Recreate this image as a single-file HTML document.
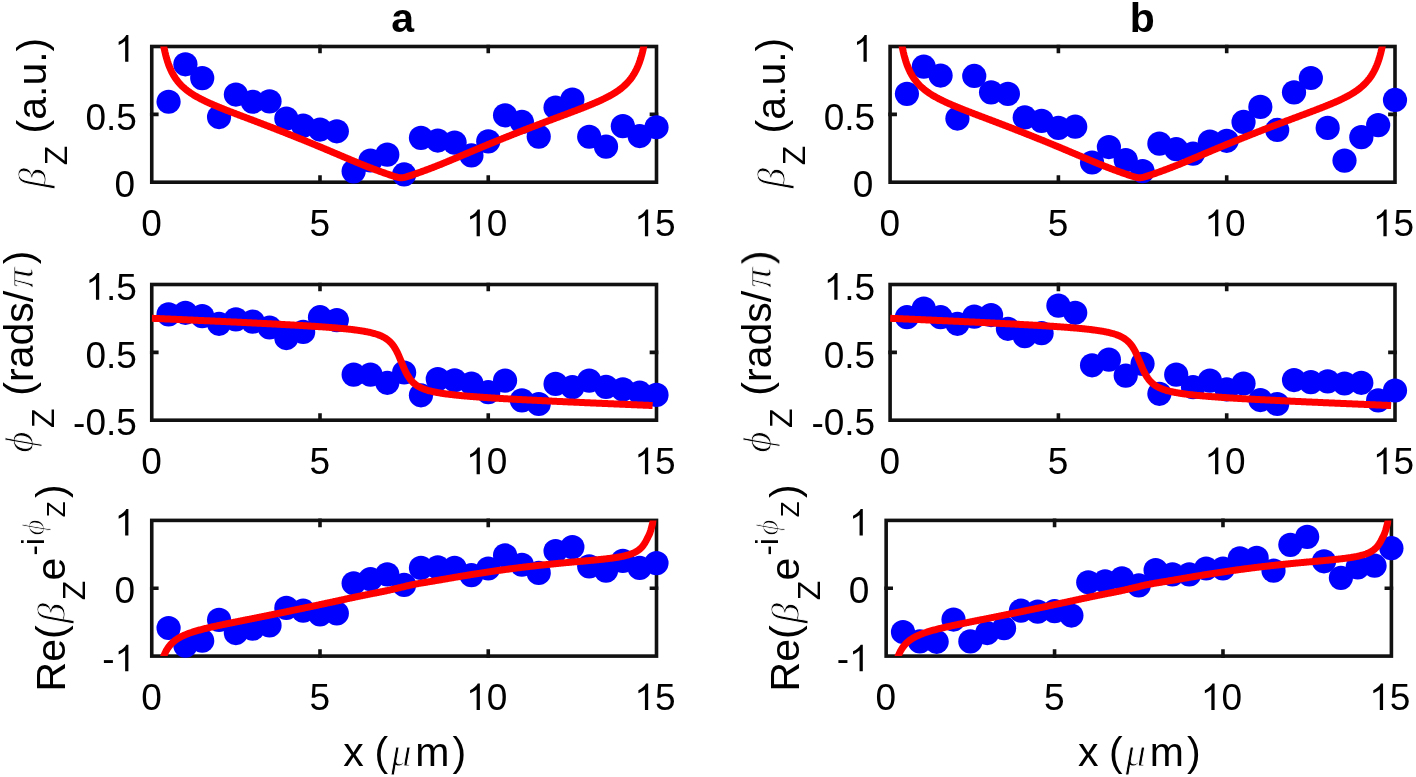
<!DOCTYPE html>
<html><head><meta charset="utf-8"><style>
html,body{margin:0;padding:0;background:#fff;overflow:hidden;width:1416px;height:777px;}
svg{display:block;}
.tx{filter:grayscale(1);}
text{fill:#000;}
.s{font-family:"Liberation Sans",sans-serif;}
.sb{font-family:"Liberation Sans",sans-serif;font-weight:bold;}
.gi{font-family:"Liberation Serif",serif;font-style:italic;stroke:#fff;stroke-width:0.9px;}
</style></head><body>
<svg width="1416" height="777" viewBox="0 0 1416 777">
<rect width="1416" height="777" fill="#fff"/>
<clipPath id="ca0"><rect x="151.75" y="46.50" width="504.75" height="135.70"/></clipPath>
<rect x="151.75" y="46.50" width="504.75" height="135.70" fill="none" stroke="#111111" stroke-width="3.6" stroke-linecap="square"/>
<path d="M320.00 182.20V177.15M320.00 46.50V51.55M488.25 182.20V177.15M488.25 46.50V51.55M151.75 114.35H156.80M656.50 114.35H651.45" stroke="#111111" stroke-width="3.6" stroke-linecap="square" fill="none"/>
<g fill="#0000ff">
<circle cx="168.57" cy="101.73" r="12.1"/>
<circle cx="185.40" cy="64.28" r="12.1"/>
<circle cx="202.22" cy="78.12" r="12.1"/>
<circle cx="219.05" cy="117.06" r="12.1"/>
<circle cx="235.88" cy="94.54" r="12.1"/>
<circle cx="252.70" cy="101.73" r="12.1"/>
<circle cx="269.52" cy="101.32" r="12.1"/>
<circle cx="286.35" cy="118.56" r="12.1"/>
<circle cx="303.18" cy="125.61" r="12.1"/>
<circle cx="320.00" cy="129.55" r="12.1"/>
<circle cx="336.82" cy="131.31" r="12.1"/>
<circle cx="353.65" cy="171.34" r="12.1"/>
<circle cx="370.48" cy="160.49" r="12.1"/>
<circle cx="387.30" cy="154.65" r="12.1"/>
<circle cx="404.12" cy="174.47" r="12.1"/>
<circle cx="420.95" cy="137.83" r="12.1"/>
<circle cx="437.77" cy="140.54" r="12.1"/>
<circle cx="454.60" cy="142.58" r="12.1"/>
<circle cx="471.43" cy="155.47" r="12.1"/>
<circle cx="488.25" cy="141.35" r="12.1"/>
<circle cx="505.07" cy="115.30" r="12.1"/>
<circle cx="521.90" cy="121.95" r="12.1"/>
<circle cx="538.73" cy="136.60" r="12.1"/>
<circle cx="555.55" cy="107.56" r="12.1"/>
<circle cx="572.38" cy="99.56" r="12.1"/>
<circle cx="589.20" cy="136.74" r="12.1"/>
<circle cx="606.02" cy="146.65" r="12.1"/>
<circle cx="622.85" cy="126.16" r="12.1"/>
<circle cx="639.67" cy="136.06" r="12.1"/>
<circle cx="656.50" cy="127.24" r="12.1"/>
</g>
<polyline clip-path="url(#ca0)" points="158.48,-2.58 159.30,9.39 160.11,19.05 160.93,27.00 161.75,33.67 162.57,39.35 163.38,44.25 164.20,48.51 165.02,52.27 165.84,55.61 166.65,58.59 167.47,61.27 168.29,63.70 169.11,65.92 169.92,67.94 170.74,69.81 171.56,71.53 172.38,73.12 173.19,74.61 174.01,75.99 174.83,77.29 175.64,78.51 176.46,79.66 177.28,80.74 178.10,81.77 178.91,82.74 179.73,83.67 180.55,84.55 181.37,85.40 182.18,86.20 183.00,86.97 183.82,87.72 184.64,88.43 185.45,89.12 186.27,89.78 187.09,90.42 187.91,91.04 188.72,91.65 189.54,92.23 190.36,92.79 191.17,93.34 191.99,93.88 192.81,94.40 193.63,94.91 194.44,95.41 195.26,95.90 196.08,96.37 196.90,96.84 197.71,97.29 198.53,97.74 199.35,98.18 200.17,98.61 200.98,99.04 201.80,99.46 202.62,99.87 203.44,100.27 204.25,100.67 205.07,101.07 205.89,101.45 206.71,101.84 207.52,102.22 208.34,102.59 209.16,102.96 209.97,103.33 210.79,103.70 211.61,104.06 212.43,104.41 213.24,104.77 214.06,105.12 214.88,105.47 215.70,105.81 216.51,106.16 217.33,106.50 218.15,106.84 218.97,107.17 219.78,107.51 220.60,107.84 221.42,108.17 222.24,108.50 223.05,108.83 223.87,109.16 224.69,109.48 225.50,109.80 226.32,110.13 227.14,110.45 227.96,110.77 228.77,111.09 229.59,111.41 230.41,111.73 231.23,112.04 232.04,112.36 232.86,112.67 233.68,112.99 234.50,113.30 235.31,113.62 236.13,113.93 236.95,114.24 237.77,114.55 238.58,114.87 239.40,115.18 240.22,115.49 241.03,115.80 241.85,116.11 242.67,116.42 243.49,116.73 244.30,117.04 245.12,117.35 245.94,117.66 246.76,117.97 247.57,118.28 248.39,118.59 249.21,118.90 250.03,119.21 250.84,119.52 251.66,119.83 252.48,120.14 253.30,120.45 254.11,120.76 254.93,121.07 255.75,121.38 256.56,121.69 257.38,122.00 258.20,122.32 259.02,122.63 259.83,122.94 260.65,123.25 261.47,123.56 262.29,123.87 263.10,124.19 263.92,124.50 264.74,124.81 265.56,125.13 266.37,125.44 267.19,125.75 268.01,126.07 268.83,126.38 269.64,126.70 270.46,127.01 271.28,127.33 272.10,127.64 272.91,127.96 273.73,128.28 274.55,128.59 275.36,128.91 276.18,129.23 277.00,129.55 277.82,129.87 278.63,130.19 279.45,130.50 280.27,130.82 281.09,131.14 281.90,131.47 282.72,131.79 283.54,132.11 284.36,132.43 285.17,132.75 285.99,133.07 286.81,133.40 287.63,133.72 288.44,134.05 289.26,134.37 290.08,134.69 290.89,135.02 291.71,135.35 292.53,135.67 293.35,136.00 294.16,136.33 294.98,136.65 295.80,136.98 296.62,137.31 297.43,137.64 298.25,137.97 299.07,138.30 299.89,138.63 300.70,138.96 301.52,139.29 302.34,139.62 303.16,139.95 303.97,140.28 304.79,140.61 305.61,140.95 306.42,141.28 307.24,141.62 308.06,141.95 308.88,142.28 309.69,142.62 310.51,142.95 311.33,143.29 312.15,143.63 312.96,143.96 313.78,144.30 314.60,144.64 315.42,144.98 316.23,145.31 317.05,145.65 317.87,145.99 318.69,146.33 319.50,146.67 320.32,147.01 321.14,147.35 321.95,147.69 322.77,148.03 323.59,148.38 324.41,148.72 325.22,149.06 326.04,149.40 326.86,149.75 327.68,150.09 328.49,150.43 329.31,150.78 330.13,151.12 330.95,151.46 331.76,151.81 332.58,152.15 333.40,152.50 334.22,152.85 335.03,153.19 335.85,153.54 336.67,153.88 337.49,154.23 338.30,154.58 339.12,154.92 339.94,155.27 340.75,155.62 341.57,155.96 342.39,156.31 343.21,156.66 344.02,157.00 344.84,157.35 345.66,157.70 346.48,158.04 347.29,158.39 348.11,158.74 348.93,159.08 349.75,159.43 350.56,159.77 351.38,160.12 352.20,160.46 353.02,160.80 353.83,161.15 354.65,161.49 355.47,161.83 356.28,162.17 357.10,162.51 357.92,162.85 358.74,163.18 359.55,163.52 360.37,163.86 361.19,164.19 362.01,164.52 362.82,164.85 363.64,165.18 364.46,165.51 365.28,165.83 366.09,166.16 366.91,166.48 367.73,166.80 368.55,167.12 369.36,167.44 370.18,167.75 371.00,168.07 371.81,168.38 372.63,168.69 373.45,169.00 374.27,169.30 375.08,169.61 375.90,169.91 376.72,170.21 377.54,170.51 378.35,170.81 379.17,171.11 379.99,171.41 380.81,171.70 381.62,171.99 382.44,172.29 383.26,172.58 384.08,172.87 384.89,173.16 385.71,173.45 386.53,173.73 387.34,174.02 388.16,174.31 388.98,174.59 389.80,174.88 390.61,175.16 391.43,175.43 392.25,175.71 393.07,175.98 393.88,176.24 394.70,176.50 395.52,176.75 396.34,176.98 397.15,177.19 397.97,177.37 398.79,177.53 399.61,177.65 400.42,177.72 401.24,177.74 402.06,177.71 402.88,177.63 403.69,177.51 404.51,177.34 405.33,177.15 406.14,176.93 406.96,176.70 407.78,176.45 408.60,176.19 409.41,175.93 410.23,175.65 411.05,175.38 411.87,175.10 412.68,174.82 413.50,174.53 414.32,174.25 415.14,173.96 415.95,173.67 416.77,173.38 417.59,173.09 418.41,172.80 419.22,172.51 420.04,172.22 420.86,171.93 421.67,171.63 422.49,171.34 423.31,171.04 424.13,170.75 424.94,170.45 425.76,170.15 426.58,169.85 427.40,169.55 428.21,169.24 429.03,168.93 429.85,168.63 430.67,168.32 431.48,168.01 432.30,167.69 433.12,167.38 433.94,167.06 434.75,166.74 435.57,166.42 436.39,166.10 437.20,165.78 438.02,165.45 438.84,165.12 439.66,164.80 440.47,164.46 441.29,164.13 442.11,163.80 442.93,163.47 443.74,163.13 444.56,162.79 445.38,162.46 446.20,162.12 447.01,161.78 447.83,161.44 448.65,161.09 449.47,160.75 450.28,160.41 451.10,160.07 451.92,159.72 452.73,159.38 453.55,159.03 454.37,158.69 455.19,158.34 456.00,157.99 456.82,157.65 457.64,157.30 458.46,156.96 459.27,156.61 460.09,156.26 460.91,155.92 461.73,155.57 462.54,155.22 463.36,154.88 464.18,154.53 465.00,154.18 465.81,153.84 466.63,153.49 467.45,153.15 468.27,152.80 469.08,152.45 469.90,152.11 470.72,151.76 471.53,151.42 472.35,151.08 473.17,150.73 473.99,150.39 474.80,150.04 475.62,149.70 476.44,149.36 477.26,149.02 478.07,148.67 478.89,148.33 479.71,147.99 480.53,147.65 481.34,147.31 482.16,146.97 482.98,146.63 483.80,146.29 484.61,145.95 485.43,145.61 486.25,145.27 487.06,144.94 487.88,144.60 488.70,144.26 489.52,143.93 490.33,143.59 491.15,143.25 491.97,142.92 492.79,142.58 493.60,142.25 494.42,141.91 495.24,141.58 496.06,141.25 496.87,140.91 497.69,140.58 498.51,140.25 499.33,139.92 500.14,139.59 500.96,139.26 501.78,138.93 502.59,138.60 503.41,138.27 504.23,137.94 505.05,137.61 505.86,137.28 506.68,136.95 507.50,136.63 508.32,136.30 509.13,135.98 509.95,135.65 510.77,135.32 511.59,135.00 512.40,134.68 513.22,134.35 514.04,134.03 514.86,133.70 515.67,133.38 516.49,133.06 517.31,132.74 518.12,132.42 518.94,132.10 519.76,131.78 520.58,131.46 521.39,131.14 522.21,130.82 523.03,130.50 523.85,130.18 524.66,129.86 525.48,129.55 526.30,129.23 527.12,128.91 527.93,128.60 528.75,128.28 529.57,127.97 530.39,127.65 531.20,127.34 532.02,127.02 532.84,126.71 533.66,126.40 534.47,126.09 535.29,125.77 536.11,125.46 536.92,125.15 537.74,124.84 538.56,124.53 539.38,124.22 540.19,123.91 541.01,123.60 541.83,123.29 542.65,122.98 543.46,122.67 544.28,122.36 545.10,122.05 545.92,121.75 546.73,121.44 547.55,121.13 548.37,120.82 549.19,120.52 550.00,120.21 550.82,119.90 551.64,119.60 552.45,119.29 553.27,118.99 554.09,118.68 554.91,118.37 555.72,118.07 556.54,117.76 557.36,117.46 558.18,117.15 558.99,116.85 559.81,116.54 560.63,116.24 561.45,115.93 562.26,115.63 563.08,115.32 563.90,115.01 564.72,114.71 565.53,114.40 566.35,114.10 567.17,113.79 567.98,113.48 568.80,113.18 569.62,112.87 570.44,112.56 571.25,112.25 572.07,111.94 572.89,111.64 573.71,111.33 574.52,111.02 575.34,110.71 576.16,110.39 576.98,110.08 577.79,109.77 578.61,109.45 579.43,109.14 580.25,108.82 581.06,108.51 581.88,108.19 582.70,107.87 583.51,107.55 584.33,107.23 585.15,106.90 585.97,106.58 586.78,106.25 587.60,105.92 588.42,105.59 589.24,105.26 590.05,104.93 590.87,104.59 591.69,104.25 592.51,103.91 593.32,103.57 594.14,103.22 594.96,102.87 595.78,102.52 596.59,102.17 597.41,101.81 598.23,101.44 599.05,101.08 599.86,100.71 600.68,100.33 601.50,99.95 602.31,99.57 603.13,99.18 603.95,98.79 604.77,98.39 605.58,97.98 606.40,97.57 607.22,97.15 608.04,96.72 608.85,96.29 609.67,95.84 610.49,95.39 611.31,94.93 612.12,94.46 612.94,93.98 613.76,93.49 614.58,92.99 615.39,92.48 616.21,91.95 617.03,91.40 617.84,90.85 618.66,90.27 619.48,89.68 620.30,89.07 621.11,88.44 621.93,87.78 622.75,87.11 623.57,86.41 624.38,85.68 625.20,84.92 626.02,84.13 626.84,83.30 627.65,82.44 628.47,81.53 629.29,80.58 630.11,79.58 630.92,78.52 631.74,77.41 632.56,76.23 633.37,74.97 634.19,73.63 635.01,72.20 635.83,70.67 636.64,69.02 637.46,67.24 638.28,65.32 639.10,63.22 639.91,60.93 640.73,58.41 641.55,55.63 642.37,52.54 643.18,49.09 644.00,45.20 644.82,40.77 645.64,35.70 646.45,29.82 647.27,22.91 648.09,14.68" fill="none" stroke="#ff0000" stroke-width="7" stroke-linejoin="round"/>
<clipPath id="cb0"><rect x="890.10" y="46.50" width="504.90" height="135.70"/></clipPath>
<rect x="890.10" y="46.50" width="504.90" height="135.70" fill="none" stroke="#111111" stroke-width="3.6" stroke-linecap="square"/>
<path d="M1058.40 182.20V177.15M1058.40 46.50V51.55M1226.70 182.20V177.15M1226.70 46.50V51.55M890.10 114.35H895.15M1395.00 114.35H1389.95" stroke="#111111" stroke-width="3.6" stroke-linecap="square" fill="none"/>
<g fill="#0000ff">
<circle cx="906.93" cy="93.86" r="12.1"/>
<circle cx="923.76" cy="66.72" r="12.1"/>
<circle cx="940.59" cy="75.54" r="12.1"/>
<circle cx="957.42" cy="118.56" r="12.1"/>
<circle cx="974.25" cy="75.95" r="12.1"/>
<circle cx="991.08" cy="92.37" r="12.1"/>
<circle cx="1007.91" cy="93.86" r="12.1"/>
<circle cx="1024.74" cy="117.47" r="12.1"/>
<circle cx="1041.57" cy="120.86" r="12.1"/>
<circle cx="1058.40" cy="127.92" r="12.1"/>
<circle cx="1075.23" cy="126.70" r="12.1"/>
<circle cx="1092.06" cy="162.52" r="12.1"/>
<circle cx="1108.89" cy="147.05" r="12.1"/>
<circle cx="1125.72" cy="160.08" r="12.1"/>
<circle cx="1142.55" cy="171.07" r="12.1"/>
<circle cx="1159.38" cy="143.66" r="12.1"/>
<circle cx="1176.21" cy="149.22" r="12.1"/>
<circle cx="1193.04" cy="153.57" r="12.1"/>
<circle cx="1209.87" cy="141.49" r="12.1"/>
<circle cx="1226.70" cy="140.81" r="12.1"/>
<circle cx="1243.53" cy="121.95" r="12.1"/>
<circle cx="1260.36" cy="106.89" r="12.1"/>
<circle cx="1277.19" cy="129.96" r="12.1"/>
<circle cx="1294.02" cy="92.37" r="12.1"/>
<circle cx="1310.85" cy="77.98" r="12.1"/>
<circle cx="1327.68" cy="127.92" r="12.1"/>
<circle cx="1344.51" cy="160.62" r="12.1"/>
<circle cx="1361.34" cy="137.15" r="12.1"/>
<circle cx="1378.17" cy="125.07" r="12.1"/>
<circle cx="1395.00" cy="99.97" r="12.1"/>
</g>
<polyline clip-path="url(#cb0)" points="896.83,-2.58 897.65,9.39 898.47,19.05 899.28,27.00 900.10,33.67 900.92,39.35 901.74,44.25 902.56,48.51 903.37,52.27 904.19,55.61 905.01,58.59 905.83,61.27 906.64,63.70 907.46,65.92 908.28,67.94 909.10,69.81 909.91,71.53 910.73,73.12 911.55,74.61 912.37,75.99 913.18,77.29 914.00,78.51 914.82,79.66 915.64,80.74 916.45,81.77 917.27,82.74 918.09,83.67 918.91,84.55 919.73,85.40 920.54,86.20 921.36,86.97 922.18,87.72 923.00,88.43 923.81,89.12 924.63,89.78 925.45,90.42 926.27,91.04 927.08,91.65 927.90,92.23 928.72,92.79 929.54,93.34 930.35,93.88 931.17,94.40 931.99,94.91 932.81,95.41 933.62,95.90 934.44,96.37 935.26,96.84 936.08,97.29 936.90,97.74 937.71,98.18 938.53,98.61 939.35,99.04 940.17,99.46 940.98,99.87 941.80,100.27 942.62,100.67 943.44,101.07 944.25,101.45 945.07,101.84 945.89,102.22 946.71,102.59 947.52,102.96 948.34,103.33 949.16,103.70 949.98,104.06 950.79,104.41 951.61,104.77 952.43,105.12 953.25,105.47 954.07,105.81 954.88,106.16 955.70,106.50 956.52,106.84 957.34,107.17 958.15,107.51 958.97,107.84 959.79,108.17 960.61,108.50 961.42,108.83 962.24,109.16 963.06,109.48 963.88,109.80 964.69,110.13 965.51,110.45 966.33,110.77 967.15,111.09 967.96,111.41 968.78,111.73 969.60,112.04 970.42,112.36 971.24,112.67 972.05,112.99 972.87,113.30 973.69,113.62 974.51,113.93 975.32,114.24 976.14,114.55 976.96,114.87 977.78,115.18 978.59,115.49 979.41,115.80 980.23,116.11 981.05,116.42 981.86,116.73 982.68,117.04 983.50,117.35 984.32,117.66 985.13,117.97 985.95,118.28 986.77,118.59 987.59,118.90 988.41,119.21 989.22,119.52 990.04,119.83 990.86,120.14 991.68,120.45 992.49,120.76 993.31,121.07 994.13,121.38 994.95,121.69 995.76,122.00 996.58,122.32 997.40,122.63 998.22,122.94 999.03,123.25 999.85,123.56 1000.67,123.87 1001.49,124.19 1002.30,124.50 1003.12,124.81 1003.94,125.13 1004.76,125.44 1005.58,125.75 1006.39,126.07 1007.21,126.38 1008.03,126.70 1008.85,127.01 1009.66,127.33 1010.48,127.64 1011.30,127.96 1012.12,128.28 1012.93,128.59 1013.75,128.91 1014.57,129.23 1015.39,129.55 1016.20,129.87 1017.02,130.19 1017.84,130.50 1018.66,130.82 1019.47,131.14 1020.29,131.47 1021.11,131.79 1021.93,132.11 1022.75,132.43 1023.56,132.75 1024.38,133.07 1025.20,133.40 1026.02,133.72 1026.83,134.05 1027.65,134.37 1028.47,134.69 1029.29,135.02 1030.10,135.35 1030.92,135.67 1031.74,136.00 1032.56,136.33 1033.37,136.65 1034.19,136.98 1035.01,137.31 1035.83,137.64 1036.64,137.97 1037.46,138.30 1038.28,138.63 1039.10,138.96 1039.92,139.29 1040.73,139.62 1041.55,139.95 1042.37,140.28 1043.19,140.61 1044.00,140.95 1044.82,141.28 1045.64,141.62 1046.46,141.95 1047.27,142.28 1048.09,142.62 1048.91,142.95 1049.73,143.29 1050.54,143.63 1051.36,143.96 1052.18,144.30 1053.00,144.64 1053.81,144.98 1054.63,145.31 1055.45,145.65 1056.27,145.99 1057.09,146.33 1057.90,146.67 1058.72,147.01 1059.54,147.35 1060.36,147.69 1061.17,148.03 1061.99,148.38 1062.81,148.72 1063.63,149.06 1064.44,149.40 1065.26,149.75 1066.08,150.09 1066.90,150.43 1067.71,150.78 1068.53,151.12 1069.35,151.46 1070.17,151.81 1070.98,152.15 1071.80,152.50 1072.62,152.85 1073.44,153.19 1074.26,153.54 1075.07,153.88 1075.89,154.23 1076.71,154.58 1077.53,154.92 1078.34,155.27 1079.16,155.62 1079.98,155.96 1080.80,156.31 1081.61,156.66 1082.43,157.00 1083.25,157.35 1084.07,157.70 1084.88,158.04 1085.70,158.39 1086.52,158.74 1087.34,159.08 1088.15,159.43 1088.97,159.77 1089.79,160.12 1090.61,160.46 1091.43,160.80 1092.24,161.15 1093.06,161.49 1093.88,161.83 1094.70,162.17 1095.51,162.51 1096.33,162.85 1097.15,163.18 1097.97,163.52 1098.78,163.86 1099.60,164.19 1100.42,164.52 1101.24,164.85 1102.05,165.18 1102.87,165.51 1103.69,165.83 1104.51,166.16 1105.32,166.48 1106.14,166.80 1106.96,167.12 1107.78,167.44 1108.59,167.75 1109.41,168.07 1110.23,168.38 1111.05,168.69 1111.87,169.00 1112.68,169.30 1113.50,169.61 1114.32,169.91 1115.14,170.21 1115.95,170.51 1116.77,170.81 1117.59,171.11 1118.41,171.41 1119.22,171.70 1120.04,171.99 1120.86,172.29 1121.68,172.58 1122.49,172.87 1123.31,173.16 1124.13,173.45 1124.95,173.73 1125.76,174.02 1126.58,174.31 1127.40,174.59 1128.22,174.88 1129.04,175.16 1129.85,175.43 1130.67,175.71 1131.49,175.98 1132.31,176.24 1133.12,176.50 1133.94,176.75 1134.76,176.98 1135.58,177.19 1136.39,177.37 1137.21,177.53 1138.03,177.65 1138.85,177.72 1139.66,177.74 1140.48,177.71 1141.30,177.63 1142.12,177.51 1142.93,177.34 1143.75,177.15 1144.57,176.93 1145.39,176.70 1146.21,176.45 1147.02,176.19 1147.84,175.93 1148.66,175.65 1149.48,175.38 1150.29,175.10 1151.11,174.82 1151.93,174.53 1152.75,174.25 1153.56,173.96 1154.38,173.67 1155.20,173.38 1156.02,173.09 1156.83,172.80 1157.65,172.51 1158.47,172.22 1159.29,171.93 1160.10,171.63 1160.92,171.34 1161.74,171.04 1162.56,170.75 1163.38,170.45 1164.19,170.15 1165.01,169.85 1165.83,169.55 1166.65,169.24 1167.46,168.93 1168.28,168.63 1169.10,168.32 1169.92,168.01 1170.73,167.69 1171.55,167.38 1172.37,167.06 1173.19,166.74 1174.00,166.42 1174.82,166.10 1175.64,165.78 1176.46,165.45 1177.27,165.12 1178.09,164.80 1178.91,164.46 1179.73,164.13 1180.55,163.80 1181.36,163.47 1182.18,163.13 1183.00,162.79 1183.82,162.46 1184.63,162.12 1185.45,161.78 1186.27,161.44 1187.09,161.09 1187.90,160.75 1188.72,160.41 1189.54,160.07 1190.36,159.72 1191.17,159.38 1191.99,159.03 1192.81,158.69 1193.63,158.34 1194.44,157.99 1195.26,157.65 1196.08,157.30 1196.90,156.96 1197.72,156.61 1198.53,156.26 1199.35,155.92 1200.17,155.57 1200.99,155.22 1201.80,154.88 1202.62,154.53 1203.44,154.18 1204.26,153.84 1205.07,153.49 1205.89,153.15 1206.71,152.80 1207.53,152.45 1208.34,152.11 1209.16,151.76 1209.98,151.42 1210.80,151.08 1211.61,150.73 1212.43,150.39 1213.25,150.04 1214.07,149.70 1214.89,149.36 1215.70,149.02 1216.52,148.67 1217.34,148.33 1218.16,147.99 1218.97,147.65 1219.79,147.31 1220.61,146.97 1221.43,146.63 1222.24,146.29 1223.06,145.95 1223.88,145.61 1224.70,145.27 1225.51,144.94 1226.33,144.60 1227.15,144.26 1227.97,143.93 1228.78,143.59 1229.60,143.25 1230.42,142.92 1231.24,142.58 1232.06,142.25 1232.87,141.91 1233.69,141.58 1234.51,141.25 1235.33,140.91 1236.14,140.58 1236.96,140.25 1237.78,139.92 1238.60,139.59 1239.41,139.26 1240.23,138.93 1241.05,138.60 1241.87,138.27 1242.68,137.94 1243.50,137.61 1244.32,137.28 1245.14,136.95 1245.95,136.63 1246.77,136.30 1247.59,135.98 1248.41,135.65 1249.23,135.32 1250.04,135.00 1250.86,134.68 1251.68,134.35 1252.50,134.03 1253.31,133.70 1254.13,133.38 1254.95,133.06 1255.77,132.74 1256.58,132.42 1257.40,132.10 1258.22,131.78 1259.04,131.46 1259.85,131.14 1260.67,130.82 1261.49,130.50 1262.31,130.18 1263.12,129.86 1263.94,129.55 1264.76,129.23 1265.58,128.91 1266.40,128.60 1267.21,128.28 1268.03,127.97 1268.85,127.65 1269.67,127.34 1270.48,127.02 1271.30,126.71 1272.12,126.40 1272.94,126.09 1273.75,125.77 1274.57,125.46 1275.39,125.15 1276.21,124.84 1277.02,124.53 1277.84,124.22 1278.66,123.91 1279.48,123.60 1280.29,123.29 1281.11,122.98 1281.93,122.67 1282.75,122.36 1283.57,122.05 1284.38,121.75 1285.20,121.44 1286.02,121.13 1286.84,120.82 1287.65,120.52 1288.47,120.21 1289.29,119.90 1290.11,119.60 1290.92,119.29 1291.74,118.99 1292.56,118.68 1293.38,118.37 1294.19,118.07 1295.01,117.76 1295.83,117.46 1296.65,117.15 1297.46,116.85 1298.28,116.54 1299.10,116.24 1299.92,115.93 1300.74,115.63 1301.55,115.32 1302.37,115.01 1303.19,114.71 1304.01,114.40 1304.82,114.10 1305.64,113.79 1306.46,113.48 1307.28,113.18 1308.09,112.87 1308.91,112.56 1309.73,112.25 1310.55,111.94 1311.36,111.64 1312.18,111.33 1313.00,111.02 1313.82,110.71 1314.63,110.39 1315.45,110.08 1316.27,109.77 1317.09,109.45 1317.91,109.14 1318.72,108.82 1319.54,108.51 1320.36,108.19 1321.18,107.87 1321.99,107.55 1322.81,107.23 1323.63,106.90 1324.45,106.58 1325.26,106.25 1326.08,105.92 1326.90,105.59 1327.72,105.26 1328.53,104.93 1329.35,104.59 1330.17,104.25 1330.99,103.91 1331.80,103.57 1332.62,103.22 1333.44,102.87 1334.26,102.52 1335.08,102.17 1335.89,101.81 1336.71,101.44 1337.53,101.08 1338.35,100.71 1339.16,100.33 1339.98,99.95 1340.80,99.57 1341.62,99.18 1342.43,98.79 1343.25,98.39 1344.07,97.98 1344.89,97.57 1345.70,97.15 1346.52,96.72 1347.34,96.29 1348.16,95.84 1348.97,95.39 1349.79,94.93 1350.61,94.46 1351.43,93.98 1352.25,93.49 1353.06,92.99 1353.88,92.48 1354.70,91.95 1355.52,91.40 1356.33,90.85 1357.15,90.27 1357.97,89.68 1358.79,89.07 1359.60,88.44 1360.42,87.78 1361.24,87.11 1362.06,86.41 1362.87,85.68 1363.69,84.92 1364.51,84.13 1365.33,83.30 1366.14,82.44 1366.96,81.53 1367.78,80.58 1368.60,79.58 1369.42,78.52 1370.23,77.41 1371.05,76.23 1371.87,74.97 1372.69,73.63 1373.50,72.20 1374.32,70.67 1375.14,69.02 1375.96,67.24 1376.77,65.32 1377.59,63.22 1378.41,60.93 1379.23,58.41 1380.04,55.63 1380.86,52.54 1381.68,49.09 1382.50,45.20 1383.31,40.77 1384.13,35.70 1384.95,29.82 1385.77,22.91 1386.59,14.68" fill="none" stroke="#ff0000" stroke-width="7" stroke-linejoin="round"/>
<clipPath id="ca1"><rect x="151.75" y="284.50" width="504.75" height="135.70"/></clipPath>
<rect x="151.75" y="284.50" width="504.75" height="135.70" fill="none" stroke="#111111" stroke-width="3.6" stroke-linecap="square"/>
<path d="M320.00 420.20V415.15M320.00 284.50V289.55M488.25 420.20V415.15M488.25 284.50V289.55M151.75 352.35H156.80M656.50 352.35H651.45" stroke="#111111" stroke-width="3.6" stroke-linecap="square" fill="none"/>
<g fill="#0000ff">
<circle cx="168.57" cy="314.35" r="12.1"/>
<circle cx="185.40" cy="312.79" r="12.1"/>
<circle cx="202.22" cy="316.12" r="12.1"/>
<circle cx="219.05" cy="323.79" r="12.1"/>
<circle cx="235.88" cy="319.37" r="12.1"/>
<circle cx="252.70" cy="321.61" r="12.1"/>
<circle cx="269.52" cy="327.52" r="12.1"/>
<circle cx="286.35" cy="338.03" r="12.1"/>
<circle cx="303.18" cy="331.93" r="12.1"/>
<circle cx="320.00" cy="317.20" r="12.1"/>
<circle cx="336.82" cy="320.12" r="12.1"/>
<circle cx="353.65" cy="374.67" r="12.1"/>
<circle cx="370.48" cy="374.67" r="12.1"/>
<circle cx="387.30" cy="382.81" r="12.1"/>
<circle cx="404.12" cy="372.50" r="12.1"/>
<circle cx="420.95" cy="395.30" r="12.1"/>
<circle cx="437.77" cy="379.08" r="12.1"/>
<circle cx="454.60" cy="380.30" r="12.1"/>
<circle cx="471.43" cy="383.49" r="12.1"/>
<circle cx="488.25" cy="392.18" r="12.1"/>
<circle cx="505.07" cy="380.58" r="12.1"/>
<circle cx="521.90" cy="400.32" r="12.1"/>
<circle cx="538.73" cy="403.98" r="12.1"/>
<circle cx="555.55" cy="383.90" r="12.1"/>
<circle cx="572.38" cy="387.22" r="12.1"/>
<circle cx="589.20" cy="380.58" r="12.1"/>
<circle cx="606.02" cy="386.82" r="12.1"/>
<circle cx="622.85" cy="389.40" r="12.1"/>
<circle cx="639.67" cy="392.72" r="12.1"/>
<circle cx="656.50" cy="394.89" r="12.1"/>
</g>
<polyline clip-path="url(#ca1)" points="151.75,318.29 152.59,318.33 153.42,318.36 154.26,318.40 155.09,318.44 155.93,318.47 156.77,318.51 157.60,318.55 158.44,318.58 159.28,318.62 160.11,318.66 160.95,318.69 161.78,318.73 162.62,318.77 163.46,318.81 164.29,318.84 165.13,318.88 165.97,318.92 166.80,318.95 167.64,318.99 168.47,319.03 169.31,319.06 170.15,319.10 170.98,319.14 171.82,319.18 172.65,319.21 173.49,319.25 174.33,319.29 175.16,319.33 176.00,319.36 176.84,319.40 177.67,319.44 178.51,319.47 179.34,319.51 180.18,319.55 181.02,319.59 181.85,319.62 182.69,319.66 183.53,319.70 184.36,319.74 185.20,319.77 186.03,319.81 186.87,319.85 187.71,319.89 188.54,319.92 189.38,319.96 190.21,320.00 191.05,320.04 191.89,320.07 192.72,320.11 193.56,320.15 194.40,320.19 195.23,320.23 196.07,320.26 196.90,320.30 197.74,320.34 198.58,320.38 199.41,320.42 200.25,320.45 201.09,320.49 201.92,320.53 202.76,320.57 203.59,320.61 204.43,320.64 205.27,320.68 206.10,320.72 206.94,320.76 207.78,320.80 208.61,320.83 209.45,320.87 210.28,320.91 211.12,320.95 211.96,320.99 212.79,321.03 213.63,321.07 214.46,321.10 215.30,321.14 216.14,321.18 216.97,321.22 217.81,321.26 218.65,321.30 219.48,321.34 220.32,321.37 221.15,321.41 221.99,321.45 222.83,321.49 223.66,321.53 224.50,321.57 225.34,321.61 226.17,321.65 227.01,321.69 227.84,321.73 228.68,321.77 229.52,321.81 230.35,321.84 231.19,321.88 232.02,321.92 232.86,321.96 233.70,322.00 234.53,322.04 235.37,322.08 236.21,322.12 237.04,322.16 237.88,322.20 238.71,322.24 239.55,322.28 240.39,322.32 241.22,322.36 242.06,322.40 242.90,322.44 243.73,322.48 244.57,322.52 245.40,322.56 246.24,322.60 247.08,322.64 247.91,322.69 248.75,322.73 249.58,322.77 250.42,322.81 251.26,322.85 252.09,322.89 252.93,322.93 253.77,322.97 254.60,323.01 255.44,323.06 256.27,323.10 257.11,323.14 257.95,323.18 258.78,323.22 259.62,323.26 260.46,323.31 261.29,323.35 262.13,323.39 262.96,323.43 263.80,323.47 264.64,323.52 265.47,323.56 266.31,323.60 267.14,323.64 267.98,323.69 268.82,323.73 269.65,323.77 270.49,323.82 271.33,323.86 272.16,323.90 273.00,323.95 273.83,323.99 274.67,324.03 275.51,324.08 276.34,324.12 277.18,324.17 278.02,324.21 278.85,324.26 279.69,324.30 280.52,324.34 281.36,324.39 282.20,324.43 283.03,324.48 283.87,324.53 284.70,324.57 285.54,324.62 286.38,324.66 287.21,324.71 288.05,324.76 288.89,324.80 289.72,324.85 290.56,324.90 291.39,324.94 292.23,324.99 293.07,325.04 293.90,325.08 294.74,325.13 295.58,325.18 296.41,325.23 297.25,325.28 298.08,325.33 298.92,325.38 299.76,325.43 300.59,325.47 301.43,325.52 302.26,325.57 303.10,325.63 303.94,325.68 304.77,325.73 305.61,325.78 306.45,325.83 307.28,325.88 308.12,325.93 308.95,325.99 309.79,326.04 310.63,326.09 311.46,326.15 312.30,326.20 313.14,326.25 313.97,326.31 314.81,326.36 315.64,326.42 316.48,326.48 317.32,326.53 318.15,326.59 318.99,326.65 319.83,326.70 320.66,326.76 321.50,326.82 322.33,326.88 323.17,326.94 324.01,327.00 324.84,327.06 325.68,327.12 326.51,327.19 327.35,327.25 328.19,327.31 329.02,327.38 329.86,327.44 330.70,327.51 331.53,327.58 332.37,327.64 333.20,327.71 334.04,327.78 334.88,327.85 335.71,327.92 336.55,327.99 337.39,328.06 338.22,328.14 339.06,328.21 339.89,328.29 340.73,328.37 341.57,328.44 342.40,328.52 343.24,328.60 344.07,328.69 344.91,328.77 345.75,328.85 346.58,328.94 347.42,329.03 348.26,329.12 349.09,329.21 349.93,329.30 350.76,329.40 351.60,329.50 352.44,329.60 353.27,329.70 354.11,329.80 354.95,329.91 355.78,330.02 356.62,330.13 357.45,330.24 358.29,330.36 359.13,330.48 359.96,330.60 360.80,330.73 361.63,330.86 362.47,331.00 363.31,331.14 364.14,331.28 364.98,331.43 365.82,331.59 366.65,331.75 367.49,331.91 368.32,332.08 369.16,332.26 370.00,332.45 370.83,332.64 371.67,332.84 372.51,333.05 373.34,333.27 374.18,333.50 375.01,333.74 375.85,333.99 376.69,334.26 377.52,334.54 378.36,334.84 379.19,335.15 380.03,335.48 380.87,335.84 381.70,336.21 382.54,336.61 383.38,337.04 384.21,337.50 385.05,337.99 385.88,338.51 386.72,339.08 387.56,339.70 388.39,340.37 389.23,341.09 390.07,341.88 390.90,342.74 391.74,343.67 392.57,344.70 393.41,345.82 394.25,347.04 395.08,348.38 395.92,349.83 396.75,351.40 397.59,353.09 398.43,354.90 399.26,356.80 400.10,358.79 400.94,360.82 401.77,362.88 402.61,364.92 403.44,366.91 404.28,368.83 405.12,370.66 405.95,372.37 406.79,373.97 407.63,375.44 408.46,376.80 409.30,378.04 410.13,379.18 410.97,380.22 411.81,381.17 412.64,382.05 413.48,382.85 414.31,383.58 415.15,384.26 415.99,384.88 416.82,385.46 417.66,386.00 418.50,386.49 419.33,386.96 420.17,387.39 421.00,387.79 421.84,388.17 422.68,388.53 423.51,388.86 424.35,389.18 425.19,389.48 426.02,389.76 426.86,390.03 427.69,390.29 428.53,390.53 429.37,390.76 430.20,390.98 431.04,391.20 431.88,391.40 432.71,391.59 433.55,391.78 434.38,391.96 435.22,392.13 436.06,392.30 436.89,392.46 437.73,392.61 438.56,392.76 439.40,392.91 440.24,393.05 441.07,393.18 441.91,393.31 442.75,393.44 443.58,393.57 444.42,393.69 445.25,393.80 446.09,393.92 446.93,394.03 447.76,394.14 448.60,394.25 449.44,394.35 450.27,394.45 451.11,394.55 451.94,394.65 452.78,394.74 453.62,394.84 454.45,394.93 455.29,395.02 456.12,395.11 456.96,395.19 457.80,395.28 458.63,395.36 459.47,395.44 460.31,395.52 461.14,395.60 461.98,395.68 462.81,395.76 463.65,395.83 464.49,395.91 465.32,395.98 466.16,396.05 467.00,396.12 467.83,396.19 468.67,396.26 469.50,396.33 470.34,396.40 471.18,396.47 472.01,396.53 472.85,396.60 473.68,396.66 474.52,396.72 475.36,396.79 476.19,396.85 477.03,396.91 477.87,396.97 478.70,397.03 479.54,397.09 480.37,397.15 481.21,397.21 482.05,397.27 482.88,397.33 483.72,397.39 484.56,397.44 485.39,397.50 486.23,397.55 487.06,397.61 487.90,397.66 488.74,397.72 489.57,397.77 490.41,397.83 491.24,397.88 492.08,397.93 492.92,397.99 493.75,398.04 494.59,398.09 495.43,398.14 496.26,398.19 497.10,398.24 497.93,398.29 498.77,398.34 499.61,398.39 500.44,398.44 501.28,398.49 502.12,398.54 502.95,398.59 503.79,398.64 504.62,398.69 505.46,398.73 506.30,398.78 507.13,398.83 507.97,398.88 508.80,398.92 509.64,398.97 510.48,399.02 511.31,399.06 512.15,399.11 512.99,399.16 513.82,399.20 514.66,399.25 515.49,399.29 516.33,399.34 517.17,399.38 518.00,399.43 518.84,399.47 519.68,399.52 520.51,399.56 521.35,399.60 522.18,399.65 523.02,399.69 523.86,399.74 524.69,399.78 525.53,399.82 526.36,399.86 527.20,399.91 528.04,399.95 528.87,399.99 529.71,400.04 530.55,400.08 531.38,400.12 532.22,400.16 533.05,400.21 533.89,400.25 534.73,400.29 535.56,400.33 536.40,400.37 537.24,400.41 538.07,400.45 538.91,400.50 539.74,400.54 540.58,400.58 541.42,400.62 542.25,400.66 543.09,400.70 543.93,400.74 544.76,400.78 545.60,400.82 546.43,400.86 547.27,400.90 548.11,400.94 548.94,400.98 549.78,401.02 550.61,401.06 551.45,401.10 552.29,401.14 553.12,401.18 553.96,401.22 554.80,401.26 555.63,401.30 556.47,401.34 557.30,401.38 558.14,401.42 558.98,401.46 559.81,401.50 560.65,401.53 561.49,401.57 562.32,401.61 563.16,401.65 563.99,401.69 564.83,401.73 565.67,401.77 566.50,401.80 567.34,401.84 568.17,401.88 569.01,401.92 569.85,401.96 570.68,402.00 571.52,402.03 572.36,402.07 573.19,402.11 574.03,402.15 574.86,402.18 575.70,402.22 576.54,402.26 577.37,402.30 578.21,402.34 579.05,402.37 579.88,402.41 580.72,402.45 581.55,402.48 582.39,402.52 583.23,402.56 584.06,402.60 584.90,402.63 585.73,402.67 586.57,402.71 587.41,402.74 588.24,402.78 589.08,402.82 589.92,402.86 590.75,402.89 591.59,402.93 592.42,402.97 593.26,403.00 594.10,403.04 594.93,403.08 595.77,403.11 596.61,403.15 597.44,403.19 598.28,403.22 599.11,403.26 599.95,403.29 600.79,403.33 601.62,403.37 602.46,403.40 603.29,403.44 604.13,403.48 604.97,403.51 605.80,403.55 606.64,403.58 607.48,403.62 608.31,403.66 609.15,403.69 609.98,403.73 610.82,403.76 611.66,403.80 612.49,403.83 613.33,403.87 614.17,403.91 615.00,403.94 615.84,403.98 616.67,404.01 617.51,404.05 618.35,404.08 619.18,404.12 620.02,404.16 620.85,404.19 621.69,404.23 622.53,404.26 623.36,404.30 624.20,404.33 625.04,404.37 625.87,404.40 626.71,404.44 627.54,404.47 628.38,404.51 629.22,404.54 630.05,404.58 630.89,404.61 631.73,404.65 632.56,404.68 633.40,404.72 634.23,404.75 635.07,404.79 635.91,404.82 636.74,404.86 637.58,404.89 638.41,404.93 639.25,404.96 640.09,405.00 640.92,405.03 641.76,405.07 642.60,405.10 643.43,405.14 644.27,405.17 645.10,405.21 645.94,405.24 646.78,405.28 647.61,405.31 648.45,405.35 649.29,405.38 650.12,405.42 650.96,405.45 651.79,405.48 652.63,405.52" fill="none" stroke="#ff0000" stroke-width="7" stroke-linejoin="round"/>
<clipPath id="cb1"><rect x="890.10" y="284.50" width="504.90" height="135.70"/></clipPath>
<rect x="890.10" y="284.50" width="504.90" height="135.70" fill="none" stroke="#111111" stroke-width="3.6" stroke-linecap="square"/>
<path d="M1058.40 420.20V415.15M1058.40 284.50V289.55M1226.70 420.20V415.15M1226.70 284.50V289.55M890.10 352.35H895.15M1395.00 352.35H1389.95" stroke="#111111" stroke-width="3.6" stroke-linecap="square" fill="none"/>
<g fill="#0000ff">
<circle cx="906.93" cy="317.20" r="12.1"/>
<circle cx="923.76" cy="308.52" r="12.1"/>
<circle cx="940.59" cy="317.20" r="12.1"/>
<circle cx="957.42" cy="323.79" r="12.1"/>
<circle cx="974.25" cy="316.59" r="12.1"/>
<circle cx="991.08" cy="315.03" r="12.1"/>
<circle cx="1007.91" cy="328.81" r="12.1"/>
<circle cx="1024.74" cy="336.20" r="12.1"/>
<circle cx="1041.57" cy="333.22" r="12.1"/>
<circle cx="1058.40" cy="305.60" r="12.1"/>
<circle cx="1075.23" cy="312.79" r="12.1"/>
<circle cx="1092.06" cy="365.31" r="12.1"/>
<circle cx="1108.89" cy="359.68" r="12.1"/>
<circle cx="1125.72" cy="375.62" r="12.1"/>
<circle cx="1142.55" cy="363.82" r="12.1"/>
<circle cx="1159.38" cy="393.81" r="12.1"/>
<circle cx="1176.21" cy="374.67" r="12.1"/>
<circle cx="1193.04" cy="387.22" r="12.1"/>
<circle cx="1209.87" cy="380.58" r="12.1"/>
<circle cx="1226.70" cy="389.40" r="12.1"/>
<circle cx="1243.53" cy="383.49" r="12.1"/>
<circle cx="1260.36" cy="400.05" r="12.1"/>
<circle cx="1277.19" cy="403.98" r="12.1"/>
<circle cx="1294.02" cy="380.03" r="12.1"/>
<circle cx="1310.85" cy="382.20" r="12.1"/>
<circle cx="1327.68" cy="381.32" r="12.1"/>
<circle cx="1344.51" cy="383.49" r="12.1"/>
<circle cx="1361.34" cy="382.81" r="12.1"/>
<circle cx="1378.17" cy="400.32" r="12.1"/>
<circle cx="1395.00" cy="390.48" r="12.1"/>
</g>
<polyline clip-path="url(#cb1)" points="890.10,318.29 890.94,318.33 891.77,318.36 892.61,318.40 893.45,318.44 894.28,318.47 895.12,318.51 895.96,318.55 896.79,318.58 897.63,318.62 898.46,318.66 899.30,318.69 900.14,318.73 900.97,318.77 901.81,318.81 902.65,318.84 903.48,318.88 904.32,318.92 905.16,318.95 905.99,318.99 906.83,319.03 907.67,319.06 908.50,319.10 909.34,319.14 910.17,319.18 911.01,319.21 911.85,319.25 912.68,319.29 913.52,319.33 914.36,319.36 915.19,319.40 916.03,319.44 916.87,319.47 917.70,319.51 918.54,319.55 919.38,319.59 920.21,319.62 921.05,319.66 921.88,319.70 922.72,319.74 923.56,319.77 924.39,319.81 925.23,319.85 926.07,319.89 926.90,319.92 927.74,319.96 928.58,320.00 929.41,320.04 930.25,320.07 931.09,320.11 931.92,320.15 932.76,320.19 933.60,320.23 934.43,320.26 935.27,320.30 936.10,320.34 936.94,320.38 937.78,320.42 938.61,320.45 939.45,320.49 940.29,320.53 941.12,320.57 941.96,320.61 942.80,320.64 943.63,320.68 944.47,320.72 945.31,320.76 946.14,320.80 946.98,320.83 947.81,320.87 948.65,320.91 949.49,320.95 950.32,320.99 951.16,321.03 952.00,321.07 952.83,321.10 953.67,321.14 954.51,321.18 955.34,321.22 956.18,321.26 957.02,321.30 957.85,321.34 958.69,321.37 959.52,321.41 960.36,321.45 961.20,321.49 962.03,321.53 962.87,321.57 963.71,321.61 964.54,321.65 965.38,321.69 966.22,321.73 967.05,321.77 967.89,321.81 968.73,321.84 969.56,321.88 970.40,321.92 971.23,321.96 972.07,322.00 972.91,322.04 973.74,322.08 974.58,322.12 975.42,322.16 976.25,322.20 977.09,322.24 977.93,322.28 978.76,322.32 979.60,322.36 980.44,322.40 981.27,322.44 982.11,322.48 982.95,322.52 983.78,322.56 984.62,322.60 985.45,322.64 986.29,322.69 987.13,322.73 987.96,322.77 988.80,322.81 989.64,322.85 990.47,322.89 991.31,322.93 992.15,322.97 992.98,323.01 993.82,323.06 994.66,323.10 995.49,323.14 996.33,323.18 997.16,323.22 998.00,323.26 998.84,323.31 999.67,323.35 1000.51,323.39 1001.35,323.43 1002.18,323.47 1003.02,323.52 1003.86,323.56 1004.69,323.60 1005.53,323.64 1006.37,323.69 1007.20,323.73 1008.04,323.77 1008.87,323.82 1009.71,323.86 1010.55,323.90 1011.38,323.95 1012.22,323.99 1013.06,324.03 1013.89,324.08 1014.73,324.12 1015.57,324.17 1016.40,324.21 1017.24,324.26 1018.08,324.30 1018.91,324.34 1019.75,324.39 1020.59,324.43 1021.42,324.48 1022.26,324.53 1023.09,324.57 1023.93,324.62 1024.77,324.66 1025.60,324.71 1026.44,324.76 1027.28,324.80 1028.11,324.85 1028.95,324.90 1029.79,324.94 1030.62,324.99 1031.46,325.04 1032.30,325.08 1033.13,325.13 1033.97,325.18 1034.80,325.23 1035.64,325.28 1036.48,325.33 1037.31,325.38 1038.15,325.43 1038.99,325.47 1039.82,325.52 1040.66,325.57 1041.50,325.63 1042.33,325.68 1043.17,325.73 1044.01,325.78 1044.84,325.83 1045.68,325.88 1046.51,325.93 1047.35,325.99 1048.19,326.04 1049.02,326.09 1049.86,326.15 1050.70,326.20 1051.53,326.25 1052.37,326.31 1053.21,326.36 1054.04,326.42 1054.88,326.48 1055.72,326.53 1056.55,326.59 1057.39,326.65 1058.22,326.70 1059.06,326.76 1059.90,326.82 1060.73,326.88 1061.57,326.94 1062.41,327.00 1063.24,327.06 1064.08,327.12 1064.92,327.19 1065.75,327.25 1066.59,327.31 1067.43,327.38 1068.26,327.44 1069.10,327.51 1069.94,327.58 1070.77,327.64 1071.61,327.71 1072.44,327.78 1073.28,327.85 1074.12,327.92 1074.95,327.99 1075.79,328.06 1076.63,328.14 1077.46,328.21 1078.30,328.29 1079.14,328.37 1079.97,328.44 1080.81,328.52 1081.65,328.60 1082.48,328.69 1083.32,328.77 1084.15,328.85 1084.99,328.94 1085.83,329.03 1086.66,329.12 1087.50,329.21 1088.34,329.30 1089.17,329.40 1090.01,329.50 1090.85,329.60 1091.68,329.70 1092.52,329.80 1093.36,329.91 1094.19,330.02 1095.03,330.13 1095.86,330.24 1096.70,330.36 1097.54,330.48 1098.37,330.60 1099.21,330.73 1100.05,330.86 1100.88,331.00 1101.72,331.14 1102.56,331.28 1103.39,331.43 1104.23,331.59 1105.07,331.75 1105.90,331.91 1106.74,332.08 1107.58,332.26 1108.41,332.45 1109.25,332.64 1110.08,332.84 1110.92,333.05 1111.76,333.27 1112.59,333.50 1113.43,333.74 1114.27,333.99 1115.10,334.26 1115.94,334.54 1116.78,334.84 1117.61,335.15 1118.45,335.48 1119.29,335.84 1120.12,336.21 1120.96,336.61 1121.79,337.04 1122.63,337.50 1123.47,337.99 1124.30,338.51 1125.14,339.08 1125.98,339.70 1126.81,340.37 1127.65,341.09 1128.49,341.88 1129.32,342.74 1130.16,343.67 1131.00,344.70 1131.83,345.82 1132.67,347.04 1133.50,348.38 1134.34,349.83 1135.18,351.40 1136.01,353.09 1136.85,354.90 1137.69,356.80 1138.52,358.79 1139.36,360.82 1140.20,362.88 1141.03,364.92 1141.87,366.91 1142.71,368.83 1143.54,370.66 1144.38,372.37 1145.21,373.97 1146.05,375.44 1146.89,376.80 1147.72,378.04 1148.56,379.18 1149.40,380.22 1150.23,381.17 1151.07,382.05 1151.91,382.85 1152.74,383.58 1153.58,384.26 1154.42,384.88 1155.25,385.46 1156.09,386.00 1156.93,386.49 1157.76,386.96 1158.60,387.39 1159.43,387.79 1160.27,388.17 1161.11,388.53 1161.94,388.86 1162.78,389.18 1163.62,389.48 1164.45,389.76 1165.29,390.03 1166.13,390.29 1166.96,390.53 1167.80,390.76 1168.64,390.98 1169.47,391.20 1170.31,391.40 1171.14,391.59 1171.98,391.78 1172.82,391.96 1173.65,392.13 1174.49,392.30 1175.33,392.46 1176.16,392.61 1177.00,392.76 1177.84,392.91 1178.67,393.05 1179.51,393.18 1180.35,393.31 1181.18,393.44 1182.02,393.57 1182.85,393.69 1183.69,393.80 1184.53,393.92 1185.36,394.03 1186.20,394.14 1187.04,394.25 1187.87,394.35 1188.71,394.45 1189.55,394.55 1190.38,394.65 1191.22,394.74 1192.06,394.84 1192.89,394.93 1193.73,395.02 1194.57,395.11 1195.40,395.19 1196.24,395.28 1197.07,395.36 1197.91,395.44 1198.75,395.52 1199.58,395.60 1200.42,395.68 1201.26,395.76 1202.09,395.83 1202.93,395.91 1203.77,395.98 1204.60,396.05 1205.44,396.12 1206.28,396.19 1207.11,396.26 1207.95,396.33 1208.78,396.40 1209.62,396.47 1210.46,396.53 1211.29,396.60 1212.13,396.66 1212.97,396.72 1213.80,396.79 1214.64,396.85 1215.48,396.91 1216.31,396.97 1217.15,397.03 1217.99,397.09 1218.82,397.15 1219.66,397.21 1220.49,397.27 1221.33,397.33 1222.17,397.39 1223.00,397.44 1223.84,397.50 1224.68,397.55 1225.51,397.61 1226.35,397.66 1227.19,397.72 1228.02,397.77 1228.86,397.83 1229.70,397.88 1230.53,397.93 1231.37,397.99 1232.21,398.04 1233.04,398.09 1233.88,398.14 1234.71,398.19 1235.55,398.24 1236.39,398.29 1237.22,398.34 1238.06,398.39 1238.90,398.44 1239.73,398.49 1240.57,398.54 1241.41,398.59 1242.24,398.64 1243.08,398.69 1243.92,398.73 1244.75,398.78 1245.59,398.83 1246.42,398.88 1247.26,398.92 1248.10,398.97 1248.93,399.02 1249.77,399.06 1250.61,399.11 1251.44,399.16 1252.28,399.20 1253.12,399.25 1253.95,399.29 1254.79,399.34 1255.63,399.38 1256.46,399.43 1257.30,399.47 1258.13,399.52 1258.97,399.56 1259.81,399.60 1260.64,399.65 1261.48,399.69 1262.32,399.74 1263.15,399.78 1263.99,399.82 1264.83,399.86 1265.66,399.91 1266.50,399.95 1267.34,399.99 1268.17,400.04 1269.01,400.08 1269.84,400.12 1270.68,400.16 1271.52,400.21 1272.35,400.25 1273.19,400.29 1274.03,400.33 1274.86,400.37 1275.70,400.41 1276.54,400.45 1277.37,400.50 1278.21,400.54 1279.05,400.58 1279.88,400.62 1280.72,400.66 1281.56,400.70 1282.39,400.74 1283.23,400.78 1284.06,400.82 1284.90,400.86 1285.74,400.90 1286.57,400.94 1287.41,400.98 1288.25,401.02 1289.08,401.06 1289.92,401.10 1290.76,401.14 1291.59,401.18 1292.43,401.22 1293.27,401.26 1294.10,401.30 1294.94,401.34 1295.77,401.38 1296.61,401.42 1297.45,401.46 1298.28,401.50 1299.12,401.53 1299.96,401.57 1300.79,401.61 1301.63,401.65 1302.47,401.69 1303.30,401.73 1304.14,401.77 1304.98,401.80 1305.81,401.84 1306.65,401.88 1307.48,401.92 1308.32,401.96 1309.16,402.00 1309.99,402.03 1310.83,402.07 1311.67,402.11 1312.50,402.15 1313.34,402.18 1314.18,402.22 1315.01,402.26 1315.85,402.30 1316.69,402.34 1317.52,402.37 1318.36,402.41 1319.20,402.45 1320.03,402.48 1320.87,402.52 1321.70,402.56 1322.54,402.60 1323.38,402.63 1324.21,402.67 1325.05,402.71 1325.89,402.74 1326.72,402.78 1327.56,402.82 1328.40,402.86 1329.23,402.89 1330.07,402.93 1330.91,402.97 1331.74,403.00 1332.58,403.04 1333.41,403.08 1334.25,403.11 1335.09,403.15 1335.92,403.19 1336.76,403.22 1337.60,403.26 1338.43,403.29 1339.27,403.33 1340.11,403.37 1340.94,403.40 1341.78,403.44 1342.62,403.48 1343.45,403.51 1344.29,403.55 1345.12,403.58 1345.96,403.62 1346.80,403.66 1347.63,403.69 1348.47,403.73 1349.31,403.76 1350.14,403.80 1350.98,403.83 1351.82,403.87 1352.65,403.91 1353.49,403.94 1354.33,403.98 1355.16,404.01 1356.00,404.05 1356.83,404.08 1357.67,404.12 1358.51,404.16 1359.34,404.19 1360.18,404.23 1361.02,404.26 1361.85,404.30 1362.69,404.33 1363.53,404.37 1364.36,404.40 1365.20,404.44 1366.04,404.47 1366.87,404.51 1367.71,404.54 1368.55,404.58 1369.38,404.61 1370.22,404.65 1371.05,404.68 1371.89,404.72 1372.73,404.75 1373.56,404.79 1374.40,404.82 1375.24,404.86 1376.07,404.89 1376.91,404.93 1377.75,404.96 1378.58,405.00 1379.42,405.03 1380.26,405.07 1381.09,405.10 1381.93,405.14 1382.76,405.17 1383.60,405.21 1384.44,405.24 1385.27,405.28 1386.11,405.31 1386.95,405.35 1387.78,405.38 1388.62,405.42 1389.46,405.45 1390.29,405.48 1391.13,405.52" fill="none" stroke="#ff0000" stroke-width="7" stroke-linejoin="round"/>
<clipPath id="ca2"><rect x="151.75" y="520.40" width="504.75" height="135.70"/></clipPath>
<rect x="151.75" y="520.40" width="504.75" height="135.70" fill="none" stroke="#111111" stroke-width="3.6" stroke-linecap="square"/>
<path d="M320.00 656.10V651.05M320.00 520.40V525.45M488.25 656.10V651.05M488.25 520.40V525.45M151.75 588.25H156.80M656.50 588.25H651.45" stroke="#111111" stroke-width="3.6" stroke-linecap="square" fill="none"/>
<g fill="#0000ff">
<circle cx="168.57" cy="628.01" r="12.1"/>
<circle cx="185.40" cy="645.72" r="12.1"/>
<circle cx="202.22" cy="640.70" r="12.1"/>
<circle cx="219.05" cy="619.87" r="12.1"/>
<circle cx="235.88" cy="633.03" r="12.1"/>
<circle cx="252.70" cy="628.69" r="12.1"/>
<circle cx="269.52" cy="625.43" r="12.1"/>
<circle cx="286.35" cy="607.93" r="12.1"/>
<circle cx="303.18" cy="610.71" r="12.1"/>
<circle cx="320.00" cy="614.51" r="12.1"/>
<circle cx="336.82" cy="613.42" r="12.1"/>
<circle cx="353.65" cy="583.23" r="12.1"/>
<circle cx="370.48" cy="579.16" r="12.1"/>
<circle cx="387.30" cy="574.41" r="12.1"/>
<circle cx="404.12" cy="584.93" r="12.1"/>
<circle cx="420.95" cy="567.89" r="12.1"/>
<circle cx="437.77" cy="567.42" r="12.1"/>
<circle cx="454.60" cy="567.89" r="12.1"/>
<circle cx="471.43" cy="575.09" r="12.1"/>
<circle cx="488.25" cy="568.51" r="12.1"/>
<circle cx="505.07" cy="555.41" r="12.1"/>
<circle cx="521.90" cy="564.77" r="12.1"/>
<circle cx="538.73" cy="572.92" r="12.1"/>
<circle cx="555.55" cy="551.00" r="12.1"/>
<circle cx="572.38" cy="547.07" r="12.1"/>
<circle cx="589.20" cy="566.33" r="12.1"/>
<circle cx="606.02" cy="570.68" r="12.1"/>
<circle cx="622.85" cy="560.91" r="12.1"/>
<circle cx="639.67" cy="567.89" r="12.1"/>
<circle cx="656.50" cy="563.08" r="12.1"/>
</g>
<polyline clip-path="url(#ca2)" points="161.84,662.15 162.67,659.37 163.49,656.93 164.31,654.82 165.13,652.96 165.95,651.31 166.78,649.83 167.60,648.50 168.42,647.29 169.24,646.19 170.06,645.19 170.89,644.26 171.71,643.40 172.53,642.61 173.35,641.87 174.17,641.18 174.99,640.53 175.82,639.92 176.64,639.35 177.46,638.81 178.28,638.30 179.10,637.81 179.93,637.34 180.75,636.90 181.57,636.48 182.39,636.07 183.21,635.68 184.04,635.31 184.86,634.95 185.68,634.60 186.50,634.27 187.32,633.95 188.14,633.63 188.97,633.33 189.79,633.03 190.61,632.75 191.43,632.47 192.25,632.19 193.08,631.93 193.90,631.67 194.72,631.42 195.54,631.17 196.36,630.93 197.19,630.69 198.01,630.45 198.83,630.22 199.65,630.00 200.47,629.78 201.29,629.56 202.12,629.35 202.94,629.13 203.76,628.92 204.58,628.72 205.40,628.52 206.23,628.31 207.05,628.12 207.87,627.92 208.69,627.73 209.51,627.53 210.34,627.34 211.16,627.15 211.98,626.97 212.80,626.78 213.62,626.60 214.44,626.41 215.27,626.23 216.09,626.05 216.91,625.87 217.73,625.69 218.55,625.52 219.38,625.34 220.20,625.17 221.02,624.99 221.84,624.82 222.66,624.65 223.49,624.47 224.31,624.30 225.13,624.13 225.95,623.96 226.77,623.79 227.59,623.62 228.42,623.45 229.24,623.28 230.06,623.12 230.88,622.95 231.70,622.78 232.53,622.62 233.35,622.45 234.17,622.28 234.99,622.12 235.81,621.95 236.64,621.79 237.46,621.62 238.28,621.46 239.10,621.29 239.92,621.13 240.74,620.96 241.57,620.80 242.39,620.63 243.21,620.47 244.03,620.30 244.85,620.14 245.68,619.97 246.50,619.81 247.32,619.64 248.14,619.48 248.96,619.32 249.78,619.15 250.61,618.99 251.43,618.82 252.25,618.66 253.07,618.49 253.89,618.33 254.72,618.16 255.54,618.00 256.36,617.84 257.18,617.67 258.00,617.51 258.83,617.34 259.65,617.17 260.47,617.01 261.29,616.84 262.11,616.68 262.93,616.51 263.76,616.35 264.58,616.18 265.40,616.01 266.22,615.85 267.04,615.68 267.87,615.52 268.69,615.35 269.51,615.18 270.33,615.02 271.15,614.85 271.98,614.68 272.80,614.51 273.62,614.35 274.44,614.18 275.26,614.01 276.08,613.84 276.91,613.67 277.73,613.51 278.55,613.34 279.37,613.17 280.19,613.00 281.02,612.83 281.84,612.66 282.66,612.49 283.48,612.32 284.30,612.15 285.13,611.98 285.95,611.81 286.77,611.64 287.59,611.47 288.41,611.30 289.23,611.13 290.06,610.96 290.88,610.79 291.70,610.62 292.52,610.44 293.34,610.27 294.17,610.10 294.99,609.93 295.81,609.76 296.63,609.58 297.45,609.41 298.28,609.24 299.10,609.07 299.92,608.89 300.74,608.72 301.56,608.55 302.38,608.37 303.21,608.20 304.03,608.03 304.85,607.85 305.67,607.68 306.49,607.50 307.32,607.33 308.14,607.16 308.96,606.98 309.78,606.81 310.60,606.63 311.43,606.46 312.25,606.28 313.07,606.11 313.89,605.93 314.71,605.76 315.53,605.58 316.36,605.41 317.18,605.23 318.00,605.05 318.82,604.88 319.64,604.70 320.47,604.53 321.29,604.35 322.11,604.17 322.93,604.00 323.75,603.82 324.58,603.64 325.40,603.47 326.22,603.29 327.04,603.11 327.86,602.94 328.68,602.76 329.51,602.58 330.33,602.41 331.15,602.23 331.97,602.05 332.79,601.87 333.62,601.70 334.44,601.52 335.26,601.34 336.08,601.17 336.90,600.99 337.72,600.81 338.55,600.63 339.37,600.46 340.19,600.28 341.01,600.10 341.83,599.93 342.66,599.75 343.48,599.57 344.30,599.39 345.12,599.22 345.94,599.04 346.77,598.87 347.59,598.69 348.41,598.51 349.23,598.34 350.05,598.16 350.87,597.99 351.70,597.81 352.52,597.64 353.34,597.46 354.16,597.29 354.98,597.11 355.81,596.94 356.63,596.77 357.45,596.60 358.27,596.42 359.09,596.25 359.92,596.08 360.74,595.91 361.56,595.74 362.38,595.57 363.20,595.40 364.02,595.24 364.85,595.07 365.67,594.90 366.49,594.74 367.31,594.57 368.13,594.40 368.96,594.24 369.78,594.08 370.60,593.91 371.42,593.75 372.24,593.59 373.07,593.42 373.89,593.26 374.71,593.10 375.53,592.94 376.35,592.77 377.17,592.61 378.00,592.45 378.82,592.29 379.64,592.12 380.46,591.96 381.28,591.79 382.11,591.63 382.93,591.46 383.75,591.29 384.57,591.12 385.39,590.95 386.22,590.78 387.04,590.60 387.86,590.42 388.68,590.24 389.50,590.06 390.32,589.88 391.15,589.69 391.97,589.50 392.79,589.31 393.61,589.11 394.43,588.92 395.26,588.72 396.08,588.52 396.90,588.33 397.72,588.14 398.54,587.95 399.37,587.76 400.19,587.57 401.01,587.38 401.83,587.19 402.65,586.99 403.47,586.79 404.30,586.58 405.12,586.38 405.94,586.17 406.76,585.96 407.58,585.76 408.41,585.56 409.23,585.37 410.05,585.19 410.87,585.01 411.69,584.83 412.52,584.66 413.34,584.50 414.16,584.33 414.98,584.18 415.80,584.02 416.62,583.87 417.45,583.72 418.27,583.58 419.09,583.43 419.91,583.29 420.73,583.15 421.56,583.01 422.38,582.87 423.20,582.73 424.02,582.59 424.84,582.45 425.66,582.32 426.49,582.18 427.31,582.04 428.13,581.90 428.95,581.77 429.77,581.63 430.60,581.49 431.42,581.36 432.24,581.22 433.06,581.08 433.88,580.94 434.71,580.80 435.53,580.66 436.35,580.52 437.17,580.38 437.99,580.24 438.81,580.10 439.64,579.96 440.46,579.82 441.28,579.68 442.10,579.54 442.92,579.40 443.75,579.26 444.57,579.11 445.39,578.97 446.21,578.83 447.03,578.69 447.86,578.55 448.68,578.40 449.50,578.26 450.32,578.12 451.14,577.98 451.96,577.84 452.79,577.69 453.61,577.55 454.43,577.41 455.25,577.27 456.07,577.13 456.90,576.99 457.72,576.85 458.54,576.71 459.36,576.57 460.18,576.43 461.01,576.29 461.83,576.15 462.65,576.02 463.47,575.88 464.29,575.74 465.11,575.60 465.94,575.47 466.76,575.33 467.58,575.20 468.40,575.06 469.22,574.93 470.05,574.79 470.87,574.66 471.69,574.53 472.51,574.39 473.33,574.26 474.16,574.13 474.98,574.00 475.80,573.87 476.62,573.74 477.44,573.61 478.26,573.48 479.09,573.35 479.91,573.22 480.73,573.09 481.55,572.97 482.37,572.84 483.20,572.71 484.02,572.59 484.84,572.46 485.66,572.34 486.48,572.21 487.31,572.09 488.13,571.97 488.95,571.84 489.77,571.72 490.59,571.60 491.41,571.48 492.24,571.36 493.06,571.24 493.88,571.12 494.70,571.00 495.52,570.88 496.35,570.76 497.17,570.65 497.99,570.53 498.81,570.41 499.63,570.30 500.46,570.18 501.28,570.07 502.10,569.95 502.92,569.84 503.74,569.73 504.56,569.62 505.39,569.50 506.21,569.39 507.03,569.28 507.85,569.17 508.67,569.06 509.50,568.95 510.32,568.84 511.14,568.74 511.96,568.63 512.78,568.52 513.60,568.41 514.43,568.31 515.25,568.20 516.07,568.10 516.89,567.99 517.71,567.89 518.54,567.79 519.36,567.68 520.18,567.58 521.00,567.48 521.82,567.38 522.65,567.28 523.47,567.18 524.29,567.08 525.11,566.98 525.93,566.88 526.75,566.78 527.58,566.68 528.40,566.59 529.22,566.49 530.04,566.39 530.86,566.30 531.69,566.20 532.51,566.11 533.33,566.01 534.15,565.92 534.97,565.83 535.80,565.74 536.62,565.64 537.44,565.55 538.26,565.46 539.08,565.37 539.90,565.28 540.73,565.19 541.55,565.10 542.37,565.01 543.19,564.93 544.01,564.84 544.84,564.75 545.66,564.66 546.48,564.58 547.30,564.49 548.12,564.41 548.95,564.32 549.77,564.24 550.59,564.15 551.41,564.07 552.23,563.99 553.05,563.91 553.88,563.82 554.70,563.74 555.52,563.66 556.34,563.58 557.16,563.50 557.99,563.42 558.81,563.34 559.63,563.26 560.45,563.18 561.27,563.10 562.10,563.02 562.92,562.94 563.74,562.87 564.56,562.79 565.38,562.71 566.20,562.63 567.03,562.56 567.85,562.48 568.67,562.40 569.49,562.33 570.31,562.25 571.14,562.18 571.96,562.10 572.78,562.03 573.60,561.95 574.42,561.88 575.25,561.80 576.07,561.73 576.89,561.65 577.71,561.58 578.53,561.51 579.35,561.43 580.18,561.36 581.00,561.28 581.82,561.21 582.64,561.14 583.46,561.06 584.29,560.99 585.11,560.91 585.93,560.84 586.75,560.76 587.57,560.69 588.39,560.61 589.22,560.54 590.04,560.46 590.86,560.38 591.68,560.31 592.50,560.23 593.33,560.15 594.15,560.07 594.97,559.99 595.79,559.91 596.61,559.83 597.44,559.75 598.26,559.67 599.08,559.59 599.90,559.50 600.72,559.42 601.54,559.33 602.37,559.25 603.19,559.16 604.01,559.07 604.83,558.98 605.65,558.88 606.48,558.79 607.30,558.69 608.12,558.59 608.94,558.49 609.76,558.39 610.59,558.28 611.41,558.17 612.23,558.06 613.05,557.95 613.87,557.83 614.69,557.71 615.52,557.59 616.34,557.46 617.16,557.32 617.98,557.19 618.80,557.04 619.63,556.90 620.45,556.74 621.27,556.58 622.09,556.42 622.91,556.24 623.74,556.06 624.56,555.87 625.38,555.67 626.20,555.46 627.02,555.24 627.84,555.01 628.67,554.76 629.49,554.50 630.31,554.22 631.13,553.93 631.95,553.62 632.78,553.28 633.60,552.93 634.42,552.54 635.24,552.13 636.06,551.68 636.89,551.20 637.71,550.67 638.53,550.09 639.35,549.46 640.17,548.77 640.99,548.00 641.82,547.15 642.64,546.18 643.46,545.09 644.28,543.89 645.10,542.58 645.93,541.12 646.75,539.52 647.57,537.86 648.39,536.25 649.21,534.60 650.04,532.57 650.86,529.91 651.68,527.00 652.50,523.83 653.32,520.51 654.14,517.01" fill="none" stroke="#ff0000" stroke-width="7" stroke-linejoin="round"/>
<clipPath id="cb2"><rect x="886.15" y="520.40" width="505.25" height="135.70"/></clipPath>
<rect x="886.15" y="520.40" width="505.25" height="135.70" fill="none" stroke="#111111" stroke-width="3.6" stroke-linecap="square"/>
<path d="M1054.57 656.10V651.05M1054.57 520.40V525.45M1222.98 656.10V651.05M1222.98 520.40V525.45M886.15 588.25H891.20M1391.40 588.25H1386.35" stroke="#111111" stroke-width="3.6" stroke-linecap="square" fill="none"/>
<g fill="#0000ff">
<circle cx="902.99" cy="632.01" r="12.1"/>
<circle cx="919.83" cy="641.38" r="12.1"/>
<circle cx="936.67" cy="641.78" r="12.1"/>
<circle cx="953.52" cy="619.53" r="12.1"/>
<circle cx="970.36" cy="641.38" r="12.1"/>
<circle cx="987.20" cy="633.03" r="12.1"/>
<circle cx="1004.04" cy="628.21" r="12.1"/>
<circle cx="1020.88" cy="610.71" r="12.1"/>
<circle cx="1037.72" cy="611.59" r="12.1"/>
<circle cx="1054.57" cy="611.18" r="12.1"/>
<circle cx="1071.41" cy="615.53" r="12.1"/>
<circle cx="1088.25" cy="582.28" r="12.1"/>
<circle cx="1105.09" cy="581.47" r="12.1"/>
<circle cx="1121.93" cy="578.41" r="12.1"/>
<circle cx="1138.78" cy="585.40" r="12.1"/>
<circle cx="1155.62" cy="570.13" r="12.1"/>
<circle cx="1172.46" cy="574.41" r="12.1"/>
<circle cx="1189.30" cy="574.41" r="12.1"/>
<circle cx="1206.14" cy="568.51" r="12.1"/>
<circle cx="1222.98" cy="568.51" r="12.1"/>
<circle cx="1239.83" cy="558.40" r="12.1"/>
<circle cx="1256.67" cy="557.92" r="12.1"/>
<circle cx="1273.51" cy="570.68" r="12.1"/>
<circle cx="1290.35" cy="544.83" r="12.1"/>
<circle cx="1307.19" cy="536.82" r="12.1"/>
<circle cx="1324.03" cy="561.31" r="12.1"/>
<circle cx="1340.88" cy="577.87" r="12.1"/>
<circle cx="1357.72" cy="567.42" r="12.1"/>
<circle cx="1374.56" cy="565.72" r="12.1"/>
<circle cx="1391.40" cy="548.22" r="12.1"/>
</g>
<polyline clip-path="url(#cb2)" points="896.25,662.15 897.08,659.37 897.90,656.93 898.72,654.82 899.55,652.96 900.37,651.31 901.19,649.83 902.01,648.50 902.84,647.29 903.66,646.19 904.48,645.19 905.30,644.26 906.13,643.40 906.95,642.61 907.77,641.87 908.60,641.18 909.42,640.53 910.24,639.92 911.06,639.35 911.89,638.81 912.71,638.30 913.53,637.81 914.35,637.34 915.18,636.90 916.00,636.48 916.82,636.07 917.64,635.68 918.47,635.31 919.29,634.95 920.11,634.60 920.94,634.27 921.76,633.95 922.58,633.63 923.40,633.33 924.23,633.03 925.05,632.75 925.87,632.47 926.69,632.19 927.52,631.93 928.34,631.67 929.16,631.42 929.99,631.17 930.81,630.93 931.63,630.69 932.45,630.45 933.28,630.22 934.10,630.00 934.92,629.78 935.74,629.56 936.57,629.35 937.39,629.13 938.21,628.92 939.03,628.72 939.86,628.52 940.68,628.31 941.50,628.12 942.33,627.92 943.15,627.73 943.97,627.53 944.79,627.34 945.62,627.15 946.44,626.97 947.26,626.78 948.08,626.60 948.91,626.41 949.73,626.23 950.55,626.05 951.37,625.87 952.20,625.69 953.02,625.52 953.84,625.34 954.67,625.17 955.49,624.99 956.31,624.82 957.13,624.65 957.96,624.47 958.78,624.30 959.60,624.13 960.42,623.96 961.25,623.79 962.07,623.62 962.89,623.45 963.72,623.28 964.54,623.12 965.36,622.95 966.18,622.78 967.01,622.62 967.83,622.45 968.65,622.28 969.47,622.12 970.30,621.95 971.12,621.79 971.94,621.62 972.76,621.46 973.59,621.29 974.41,621.13 975.23,620.96 976.06,620.80 976.88,620.63 977.70,620.47 978.52,620.30 979.35,620.14 980.17,619.97 980.99,619.81 981.81,619.64 982.64,619.48 983.46,619.32 984.28,619.15 985.10,618.99 985.93,618.82 986.75,618.66 987.57,618.49 988.40,618.33 989.22,618.16 990.04,618.00 990.86,617.84 991.69,617.67 992.51,617.51 993.33,617.34 994.15,617.17 994.98,617.01 995.80,616.84 996.62,616.68 997.45,616.51 998.27,616.35 999.09,616.18 999.91,616.01 1000.74,615.85 1001.56,615.68 1002.38,615.52 1003.20,615.35 1004.03,615.18 1004.85,615.02 1005.67,614.85 1006.49,614.68 1007.32,614.51 1008.14,614.35 1008.96,614.18 1009.79,614.01 1010.61,613.84 1011.43,613.67 1012.25,613.51 1013.08,613.34 1013.90,613.17 1014.72,613.00 1015.54,612.83 1016.37,612.66 1017.19,612.49 1018.01,612.32 1018.83,612.15 1019.66,611.98 1020.48,611.81 1021.30,611.64 1022.13,611.47 1022.95,611.30 1023.77,611.13 1024.59,610.96 1025.42,610.79 1026.24,610.62 1027.06,610.44 1027.88,610.27 1028.71,610.10 1029.53,609.93 1030.35,609.76 1031.18,609.58 1032.00,609.41 1032.82,609.24 1033.64,609.07 1034.47,608.89 1035.29,608.72 1036.11,608.55 1036.93,608.37 1037.76,608.20 1038.58,608.03 1039.40,607.85 1040.22,607.68 1041.05,607.50 1041.87,607.33 1042.69,607.16 1043.52,606.98 1044.34,606.81 1045.16,606.63 1045.98,606.46 1046.81,606.28 1047.63,606.11 1048.45,605.93 1049.27,605.76 1050.10,605.58 1050.92,605.41 1051.74,605.23 1052.56,605.05 1053.39,604.88 1054.21,604.70 1055.03,604.53 1055.86,604.35 1056.68,604.17 1057.50,604.00 1058.32,603.82 1059.15,603.64 1059.97,603.47 1060.79,603.29 1061.61,603.11 1062.44,602.94 1063.26,602.76 1064.08,602.58 1064.91,602.41 1065.73,602.23 1066.55,602.05 1067.37,601.87 1068.20,601.70 1069.02,601.52 1069.84,601.34 1070.66,601.17 1071.49,600.99 1072.31,600.81 1073.13,600.63 1073.95,600.46 1074.78,600.28 1075.60,600.10 1076.42,599.93 1077.25,599.75 1078.07,599.57 1078.89,599.39 1079.71,599.22 1080.54,599.04 1081.36,598.87 1082.18,598.69 1083.00,598.51 1083.83,598.34 1084.65,598.16 1085.47,597.99 1086.29,597.81 1087.12,597.64 1087.94,597.46 1088.76,597.29 1089.59,597.11 1090.41,596.94 1091.23,596.77 1092.05,596.60 1092.88,596.42 1093.70,596.25 1094.52,596.08 1095.34,595.91 1096.17,595.74 1096.99,595.57 1097.81,595.40 1098.64,595.24 1099.46,595.07 1100.28,594.90 1101.10,594.74 1101.93,594.57 1102.75,594.40 1103.57,594.24 1104.39,594.08 1105.22,593.91 1106.04,593.75 1106.86,593.59 1107.68,593.42 1108.51,593.26 1109.33,593.10 1110.15,592.94 1110.98,592.77 1111.80,592.61 1112.62,592.45 1113.44,592.29 1114.27,592.12 1115.09,591.96 1115.91,591.79 1116.73,591.63 1117.56,591.46 1118.38,591.29 1119.20,591.12 1120.02,590.95 1120.85,590.78 1121.67,590.60 1122.49,590.42 1123.32,590.24 1124.14,590.06 1124.96,589.88 1125.78,589.69 1126.61,589.50 1127.43,589.31 1128.25,589.11 1129.07,588.92 1129.90,588.72 1130.72,588.52 1131.54,588.33 1132.37,588.14 1133.19,587.95 1134.01,587.76 1134.83,587.57 1135.66,587.38 1136.48,587.19 1137.30,586.99 1138.12,586.79 1138.95,586.58 1139.77,586.38 1140.59,586.17 1141.41,585.96 1142.24,585.76 1143.06,585.56 1143.88,585.37 1144.71,585.19 1145.53,585.01 1146.35,584.83 1147.17,584.66 1148.00,584.50 1148.82,584.33 1149.64,584.18 1150.46,584.02 1151.29,583.87 1152.11,583.72 1152.93,583.58 1153.75,583.43 1154.58,583.29 1155.40,583.15 1156.22,583.01 1157.05,582.87 1157.87,582.73 1158.69,582.59 1159.51,582.45 1160.34,582.32 1161.16,582.18 1161.98,582.04 1162.80,581.90 1163.63,581.77 1164.45,581.63 1165.27,581.49 1166.10,581.36 1166.92,581.22 1167.74,581.08 1168.56,580.94 1169.39,580.80 1170.21,580.66 1171.03,580.52 1171.85,580.38 1172.68,580.24 1173.50,580.10 1174.32,579.96 1175.14,579.82 1175.97,579.68 1176.79,579.54 1177.61,579.40 1178.44,579.26 1179.26,579.11 1180.08,578.97 1180.90,578.83 1181.73,578.69 1182.55,578.55 1183.37,578.40 1184.19,578.26 1185.02,578.12 1185.84,577.98 1186.66,577.84 1187.48,577.69 1188.31,577.55 1189.13,577.41 1189.95,577.27 1190.78,577.13 1191.60,576.99 1192.42,576.85 1193.24,576.71 1194.07,576.57 1194.89,576.43 1195.71,576.29 1196.53,576.15 1197.36,576.02 1198.18,575.88 1199.00,575.74 1199.83,575.60 1200.65,575.47 1201.47,575.33 1202.29,575.20 1203.12,575.06 1203.94,574.93 1204.76,574.79 1205.58,574.66 1206.41,574.53 1207.23,574.39 1208.05,574.26 1208.87,574.13 1209.70,574.00 1210.52,573.87 1211.34,573.74 1212.17,573.61 1212.99,573.48 1213.81,573.35 1214.63,573.22 1215.46,573.09 1216.28,572.97 1217.10,572.84 1217.92,572.71 1218.75,572.59 1219.57,572.46 1220.39,572.34 1221.21,572.21 1222.04,572.09 1222.86,571.97 1223.68,571.84 1224.51,571.72 1225.33,571.60 1226.15,571.48 1226.97,571.36 1227.80,571.24 1228.62,571.12 1229.44,571.00 1230.26,570.88 1231.09,570.76 1231.91,570.65 1232.73,570.53 1233.56,570.41 1234.38,570.30 1235.20,570.18 1236.02,570.07 1236.85,569.95 1237.67,569.84 1238.49,569.73 1239.31,569.62 1240.14,569.50 1240.96,569.39 1241.78,569.28 1242.60,569.17 1243.43,569.06 1244.25,568.95 1245.07,568.84 1245.90,568.74 1246.72,568.63 1247.54,568.52 1248.36,568.41 1249.19,568.31 1250.01,568.20 1250.83,568.10 1251.65,567.99 1252.48,567.89 1253.30,567.79 1254.12,567.68 1254.94,567.58 1255.77,567.48 1256.59,567.38 1257.41,567.28 1258.24,567.18 1259.06,567.08 1259.88,566.98 1260.70,566.88 1261.53,566.78 1262.35,566.68 1263.17,566.59 1263.99,566.49 1264.82,566.39 1265.64,566.30 1266.46,566.20 1267.29,566.11 1268.11,566.01 1268.93,565.92 1269.75,565.83 1270.58,565.74 1271.40,565.64 1272.22,565.55 1273.04,565.46 1273.87,565.37 1274.69,565.28 1275.51,565.19 1276.33,565.10 1277.16,565.01 1277.98,564.93 1278.80,564.84 1279.63,564.75 1280.45,564.66 1281.27,564.58 1282.09,564.49 1282.92,564.41 1283.74,564.32 1284.56,564.24 1285.38,564.15 1286.21,564.07 1287.03,563.99 1287.85,563.91 1288.67,563.82 1289.50,563.74 1290.32,563.66 1291.14,563.58 1291.97,563.50 1292.79,563.42 1293.61,563.34 1294.43,563.26 1295.26,563.18 1296.08,563.10 1296.90,563.02 1297.72,562.94 1298.55,562.87 1299.37,562.79 1300.19,562.71 1301.02,562.63 1301.84,562.56 1302.66,562.48 1303.48,562.40 1304.31,562.33 1305.13,562.25 1305.95,562.18 1306.77,562.10 1307.60,562.03 1308.42,561.95 1309.24,561.88 1310.06,561.80 1310.89,561.73 1311.71,561.65 1312.53,561.58 1313.36,561.51 1314.18,561.43 1315.00,561.36 1315.82,561.28 1316.65,561.21 1317.47,561.14 1318.29,561.06 1319.11,560.99 1319.94,560.91 1320.76,560.84 1321.58,560.76 1322.40,560.69 1323.23,560.61 1324.05,560.54 1324.87,560.46 1325.70,560.38 1326.52,560.31 1327.34,560.23 1328.16,560.15 1328.99,560.07 1329.81,559.99 1330.63,559.91 1331.45,559.83 1332.28,559.75 1333.10,559.67 1333.92,559.59 1334.75,559.50 1335.57,559.42 1336.39,559.33 1337.21,559.25 1338.04,559.16 1338.86,559.07 1339.68,558.98 1340.50,558.88 1341.33,558.79 1342.15,558.69 1342.97,558.59 1343.79,558.49 1344.62,558.39 1345.44,558.28 1346.26,558.17 1347.09,558.06 1347.91,557.95 1348.73,557.83 1349.55,557.71 1350.38,557.59 1351.20,557.46 1352.02,557.32 1352.84,557.19 1353.67,557.04 1354.49,556.90 1355.31,556.74 1356.13,556.58 1356.96,556.42 1357.78,556.24 1358.60,556.06 1359.43,555.87 1360.25,555.67 1361.07,555.46 1361.89,555.24 1362.72,555.01 1363.54,554.76 1364.36,554.50 1365.18,554.22 1366.01,553.93 1366.83,553.62 1367.65,553.28 1368.48,552.93 1369.30,552.54 1370.12,552.13 1370.94,551.68 1371.77,551.20 1372.59,550.67 1373.41,550.09 1374.23,549.46 1375.06,548.77 1375.88,548.00 1376.70,547.15 1377.52,546.18 1378.35,545.09 1379.17,543.89 1379.99,542.58 1380.82,541.12 1381.64,539.52 1382.46,537.86 1383.28,536.25 1384.11,534.60 1384.93,532.57 1385.75,529.91 1386.57,527.00 1387.40,523.83 1388.22,520.51 1389.04,517.01" fill="none" stroke="#ff0000" stroke-width="7" stroke-linejoin="round"/>
<g class="tx">
<text x="114.47" y="197.40" class="s" font-size="37">0</text>
<text x="85.42" y="129.55" class="s" font-size="37">0.5</text>
<path d="M128.40 61.70L125.15 61.70L125.15 40.98Q123.97 42.10 122.07 43.22Q120.16 44.34 118.64 44.90L118.64 41.75Q121.37 40.47 123.41 38.65Q125.46 36.82 126.30 35.11L128.40 35.11Z" fill="#000"/>
<text x="141.16" y="236.20" class="s" font-size="37">0</text>
<text x="309.45" y="236.20" class="s" font-size="37">5</text>
<text x="486.66" y="236.20" class="s" font-size="37">0</text>
<path d="M479.87 236.20L476.61 236.20L476.61 215.48Q475.44 216.60 473.53 217.72Q471.63 218.84 470.11 219.40L470.11 216.25Q472.84 214.97 474.88 213.15Q476.92 211.32 477.77 209.61L479.87 209.61Z" fill="#000"/>
<text x="654.96" y="236.20" class="s" font-size="37">5</text>
<path d="M648.17 236.20L644.92 236.20L644.92 215.48Q643.74 216.60 641.84 217.72Q639.93 218.84 638.41 219.40L638.41 216.25Q641.14 214.97 643.18 213.15Q645.22 211.32 646.07 209.61L648.17 209.61Z" fill="#000"/>
<text x="852.82" y="197.40" class="s" font-size="37">0</text>
<text x="823.77" y="129.55" class="s" font-size="37">0.5</text>
<path d="M866.75 61.70L863.50 61.70L863.50 40.98Q862.32 42.10 860.42 43.22Q858.51 44.34 856.99 44.90L856.99 41.75Q859.72 40.47 861.76 38.65Q863.81 36.82 864.65 35.11L866.75 35.11Z" fill="#000"/>
<text x="879.51" y="236.20" class="s" font-size="37">0</text>
<text x="1047.85" y="236.20" class="s" font-size="37">5</text>
<text x="1225.11" y="236.20" class="s" font-size="37">0</text>
<path d="M1218.32 236.20L1215.06 236.20L1215.06 215.48Q1213.89 216.60 1211.98 217.72Q1210.08 218.84 1208.56 219.40L1208.56 216.25Q1211.29 214.97 1213.33 213.15Q1215.37 211.32 1216.22 209.61L1218.32 209.61Z" fill="#000"/>
<text x="1393.46" y="236.20" class="s" font-size="37">5</text>
<path d="M1386.67 236.20L1383.42 236.20L1383.42 215.48Q1382.24 216.60 1380.34 217.72Q1378.43 218.84 1376.91 219.40L1376.91 216.25Q1379.64 214.97 1381.68 213.15Q1383.72 211.32 1384.57 209.61L1386.67 209.61Z" fill="#000"/>
<text transform="translate(46.30,188.14) rotate(-90)" class="gi" font-size="41">β</text>
<text transform="translate(66.60,165.32) rotate(-90)" class="s" font-size="32">Z</text>
<text transform="translate(46.30,133.44) rotate(-90)" class="s" font-size="41">(a.u.)</text>
<text transform="translate(784.65,188.14) rotate(-90)" class="gi" font-size="41">β</text>
<text transform="translate(804.95,165.32) rotate(-90)" class="s" font-size="32">Z</text>
<text transform="translate(784.65,133.44) rotate(-90)" class="s" font-size="41">(a.u.)</text>
<text x="73.10" y="435.40" class="s" font-size="37">-0.5</text>
<text x="85.42" y="367.55" class="s" font-size="37">0.5</text>
<text x="106.00" y="299.70" class="s" font-size="37">.5</text>
<path d="M99.20 299.70L95.95 299.70L95.95 278.98Q94.78 280.10 92.87 281.22Q90.97 282.34 89.45 282.90L89.45 279.75Q92.18 278.47 94.22 276.65Q96.26 274.82 97.11 273.11L99.20 273.11Z" fill="#000"/>
<text x="141.16" y="474.20" class="s" font-size="37">0</text>
<text x="309.45" y="474.20" class="s" font-size="37">5</text>
<text x="486.66" y="474.20" class="s" font-size="37">0</text>
<path d="M479.87 474.20L476.61 474.20L476.61 453.48Q475.44 454.60 473.53 455.72Q471.63 456.84 470.11 457.40L470.11 454.25Q472.84 452.97 474.88 451.15Q476.92 449.32 477.77 447.61L479.87 447.61Z" fill="#000"/>
<text x="654.96" y="474.20" class="s" font-size="37">5</text>
<path d="M648.17 474.20L644.92 474.20L644.92 453.48Q643.74 454.60 641.84 455.72Q639.93 456.84 638.41 457.40L638.41 454.25Q641.14 452.97 643.18 451.15Q645.22 449.32 646.07 447.61L648.17 447.61Z" fill="#000"/>
<text x="811.45" y="435.40" class="s" font-size="37">-0.5</text>
<text x="823.77" y="367.55" class="s" font-size="37">0.5</text>
<text x="844.35" y="299.70" class="s" font-size="37">.5</text>
<path d="M837.55 299.70L834.30 299.70L834.30 278.98Q833.13 280.10 831.22 281.22Q829.32 282.34 827.80 282.90L827.80 279.75Q830.53 278.47 832.57 276.65Q834.61 274.82 835.46 273.11L837.55 273.11Z" fill="#000"/>
<text x="879.51" y="474.20" class="s" font-size="37">0</text>
<text x="1047.85" y="474.20" class="s" font-size="37">5</text>
<text x="1225.11" y="474.20" class="s" font-size="37">0</text>
<path d="M1218.32 474.20L1215.06 474.20L1215.06 453.48Q1213.89 454.60 1211.98 455.72Q1210.08 456.84 1208.56 457.40L1208.56 454.25Q1211.29 452.97 1213.33 451.15Q1215.37 449.32 1216.22 447.61L1218.32 447.61Z" fill="#000"/>
<text x="1393.46" y="474.20" class="s" font-size="37">5</text>
<path d="M1386.67 474.20L1383.42 474.20L1383.42 453.48Q1382.24 454.60 1380.34 455.72Q1378.43 456.84 1376.91 457.40L1376.91 454.25Q1379.64 452.97 1381.68 451.15Q1383.72 449.32 1384.57 447.61L1386.67 447.61Z" fill="#000"/>
<text transform="translate(33.00,452.74) rotate(-90)" class="gi" font-size="41">ϕ</text>
<text transform="translate(53.50,428.02) rotate(-90)" class="s" font-size="32">Z</text>
<text transform="translate(33.00,395.64) rotate(-90)" class="s" font-size="41">(rads/</text>
<text transform="translate(33.00,288.12) rotate(-90)" class="gi" font-size="41">π</text>
<text transform="translate(33.00,264.14) rotate(-90)" class="s" font-size="41">)</text>
<text transform="translate(771.35,452.74) rotate(-90)" class="gi" font-size="41">ϕ</text>
<text transform="translate(791.85,428.02) rotate(-90)" class="s" font-size="32">Z</text>
<text transform="translate(771.35,395.64) rotate(-90)" class="s" font-size="41">(rads/</text>
<text transform="translate(771.35,288.12) rotate(-90)" class="gi" font-size="41">π</text>
<text transform="translate(771.35,264.14) rotate(-90)" class="s" font-size="41">)</text>
<text x="102.29" y="671.30" class="s" font-size="37">-</text>
<path d="M128.40 671.30L125.15 671.30L125.15 650.58Q123.97 651.70 122.07 652.82Q120.16 653.94 118.64 654.50L118.64 651.35Q121.37 650.07 123.41 648.25Q125.46 646.42 126.30 644.71L128.40 644.71Z" fill="#000"/>
<text x="114.47" y="603.45" class="s" font-size="37">0</text>
<path d="M128.40 535.60L125.15 535.60L125.15 514.88Q123.97 516.00 122.07 517.12Q120.16 518.24 118.64 518.80L118.64 515.65Q121.37 514.37 123.41 512.55Q125.46 510.72 126.30 509.01L128.40 509.01Z" fill="#000"/>
<text x="141.16" y="710.10" class="s" font-size="37">0</text>
<text x="309.45" y="710.10" class="s" font-size="37">5</text>
<text x="486.66" y="710.10" class="s" font-size="37">0</text>
<path d="M479.87 710.10L476.61 710.10L476.61 689.38Q475.44 690.50 473.53 691.62Q471.63 692.74 470.11 693.30L470.11 690.15Q472.84 688.87 474.88 687.05Q476.92 685.22 477.77 683.51L479.87 683.51Z" fill="#000"/>
<text x="654.96" y="710.10" class="s" font-size="37">5</text>
<path d="M648.17 710.10L644.92 710.10L644.92 689.38Q643.74 690.50 641.84 691.62Q639.93 692.74 638.41 693.30L638.41 690.15Q641.14 688.87 643.18 687.05Q645.22 685.22 646.07 683.51L648.17 683.51Z" fill="#000"/>
<text x="836.69" y="671.30" class="s" font-size="37">-</text>
<path d="M862.80 671.30L859.55 671.30L859.55 650.58Q858.37 651.70 856.47 652.82Q854.56 653.94 853.04 654.50L853.04 651.35Q855.77 650.07 857.81 648.25Q859.86 646.42 860.70 644.71L862.80 644.71Z" fill="#000"/>
<text x="848.87" y="603.45" class="s" font-size="37">0</text>
<path d="M862.80 535.60L859.55 535.60L859.55 514.88Q858.37 516.00 856.47 517.12Q854.56 518.24 853.04 518.80L853.04 515.65Q855.77 514.37 857.81 512.55Q859.86 510.72 860.70 509.01L862.80 509.01Z" fill="#000"/>
<text x="875.56" y="710.10" class="s" font-size="37">0</text>
<text x="1044.01" y="710.10" class="s" font-size="37">5</text>
<text x="1221.39" y="710.10" class="s" font-size="37">0</text>
<path d="M1214.60 710.10L1211.35 710.10L1211.35 689.38Q1210.17 690.50 1208.27 691.62Q1206.36 692.74 1204.84 693.30L1204.84 690.15Q1207.57 688.87 1209.61 687.05Q1211.65 685.22 1212.50 683.51L1214.60 683.51Z" fill="#000"/>
<text x="1389.86" y="710.10" class="s" font-size="37">5</text>
<path d="M1383.07 710.10L1379.82 710.10L1379.82 689.38Q1378.64 690.50 1376.74 691.62Q1374.83 692.74 1373.31 693.30L1373.31 690.15Q1376.04 688.87 1378.08 687.05Q1380.12 685.22 1380.97 683.51L1383.07 683.51Z" fill="#000"/>
<text transform="translate(64.80,691.46) rotate(-90)" class="s" font-size="41">Re(</text>
<text transform="translate(64.80,623.34) rotate(-90)" class="gi" font-size="41">β</text>
<text transform="translate(85.30,600.32) rotate(-90)" class="s" font-size="32">Z</text>
<text transform="translate(64.80,580.54) rotate(-90)" class="s" font-size="41">e</text>
<text transform="translate(43.80,555.38) rotate(-90)" class="s" font-size="31">-i</text>
<text transform="translate(43.80,535.51) rotate(-90)" class="gi" font-size="31">ϕ</text>
<text transform="translate(64.80,517.13) rotate(-90)" class="s" font-size="26">Z</text>
<text transform="translate(64.80,498.04) rotate(-90)" class="s" font-size="41">)</text>
<text transform="translate(799.20,691.46) rotate(-90)" class="s" font-size="41">Re(</text>
<text transform="translate(799.20,623.34) rotate(-90)" class="gi" font-size="41">β</text>
<text transform="translate(819.70,600.32) rotate(-90)" class="s" font-size="32">Z</text>
<text transform="translate(799.20,580.54) rotate(-90)" class="s" font-size="41">e</text>
<text transform="translate(778.20,555.38) rotate(-90)" class="s" font-size="31">-i</text>
<text transform="translate(778.20,535.51) rotate(-90)" class="gi" font-size="31">ϕ</text>
<text transform="translate(799.20,517.13) rotate(-90)" class="s" font-size="26">Z</text>
<text transform="translate(799.20,498.04) rotate(-90)" class="s" font-size="41">)</text>
<text x="391.27" y="32.20" class="sb" font-size="41">a</text>
<text x="1129.87" y="32.20" class="sb" font-size="41">b</text>
<text x="343.24" y="765.50" class="s" font-size="41">x</text>
<text x="374.46" y="765.50" class="s" font-size="41">(</text>
<text x="390.94" y="765.50" class="gi" font-size="41">μ</text>
<text x="415.18" y="765.50" class="s" font-size="41">m</text>
<text x="452.46" y="765.50" class="s" font-size="41">)</text>
<text x="1077.89" y="765.50" class="s" font-size="41">x</text>
<text x="1109.11" y="765.50" class="s" font-size="41">(</text>
<text x="1125.59" y="765.50" class="gi" font-size="41">μ</text>
<text x="1149.83" y="765.50" class="s" font-size="41">m</text>
<text x="1187.11" y="765.50" class="s" font-size="41">)</text>
</g>
</svg></body></html>
